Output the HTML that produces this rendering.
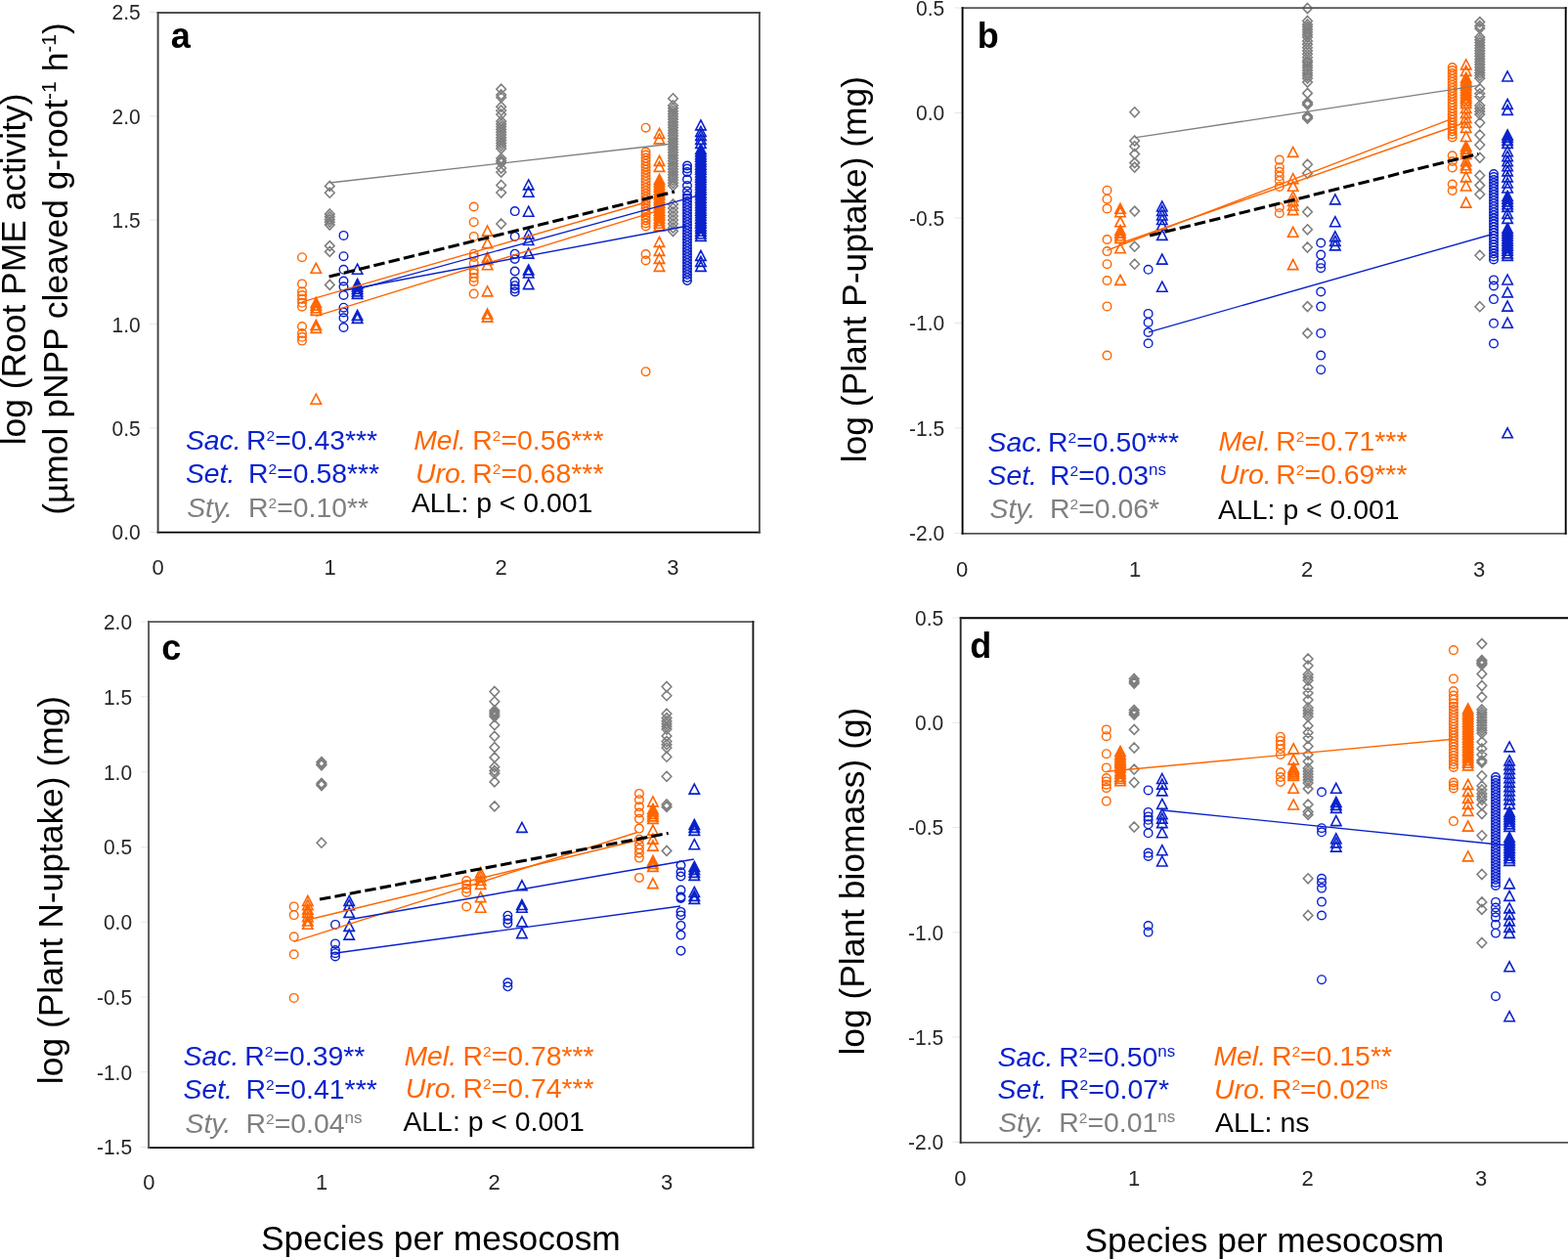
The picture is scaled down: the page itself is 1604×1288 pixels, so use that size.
<!DOCTYPE html><html><head><meta charset="utf-8"><title>Figure</title><style>html,body{margin:0;padding:0;background:#fff;overflow:hidden}svg{display:block}</style></head><body><svg width="1604" height="1288" viewBox="0 0 1604 1288" font-family='"Liberation Sans", Arial, sans-serif'>
<rect width="1604" height="1288" fill="#fff"/>
<line x1="153.2" y1="12.5" x2="161.2" y2="12.5" stroke="#e6e6e6" stroke-width="1"/>
<text x="143.8" y="20.4" font-size="22" text-anchor="end" textLength="29.2" lengthAdjust="spacingAndGlyphs" fill="#262626">2.5</text>
<line x1="153.2" y1="118.9" x2="161.2" y2="118.9" stroke="#e6e6e6" stroke-width="1"/>
<text x="143.8" y="126.8" font-size="22" text-anchor="end" textLength="29.2" lengthAdjust="spacingAndGlyphs" fill="#262626">2.0</text>
<line x1="153.2" y1="225.2" x2="161.2" y2="225.2" stroke="#e6e6e6" stroke-width="1"/>
<text x="143.8" y="233.1" font-size="22" text-anchor="end" textLength="29.2" lengthAdjust="spacingAndGlyphs" fill="#262626">1.5</text>
<line x1="153.2" y1="331.6" x2="161.2" y2="331.6" stroke="#e6e6e6" stroke-width="1"/>
<text x="143.8" y="339.5" font-size="22" text-anchor="end" textLength="29.2" lengthAdjust="spacingAndGlyphs" fill="#262626">1.0</text>
<line x1="153.2" y1="437.9" x2="161.2" y2="437.9" stroke="#e6e6e6" stroke-width="1"/>
<text x="143.8" y="445.8" font-size="22" text-anchor="end" textLength="29.2" lengthAdjust="spacingAndGlyphs" fill="#262626">0.5</text>
<line x1="153.2" y1="544.3" x2="161.2" y2="544.3" stroke="#e6e6e6" stroke-width="1"/>
<text x="143.8" y="552.2" font-size="22" text-anchor="end" textLength="29.2" lengthAdjust="spacingAndGlyphs" fill="#262626">0.0</text>
<text x="161.5" y="588.1" font-size="22" text-anchor="middle" fill="#262626">0</text>
<text x="337.5" y="588.1" font-size="22" text-anchor="middle" fill="#262626">1</text>
<text x="512.5" y="588.1" font-size="22" text-anchor="middle" fill="#262626">2</text>
<text x="688.3" y="588.1" font-size="22" text-anchor="middle" fill="#262626">3</text>
<line x1="976.5" y1="8.0" x2="984.5" y2="8.0" stroke="#e6e6e6" stroke-width="1"/>
<text x="966.3" y="15.9" font-size="22" text-anchor="end" textLength="29.2" lengthAdjust="spacingAndGlyphs" fill="#262626">0.5</text>
<line x1="976.5" y1="115.5" x2="984.5" y2="115.5" stroke="#e6e6e6" stroke-width="1"/>
<text x="966.3" y="123.4" font-size="22" text-anchor="end" textLength="29.2" lengthAdjust="spacingAndGlyphs" fill="#262626">0.0</text>
<line x1="976.5" y1="223.0" x2="984.5" y2="223.0" stroke="#e6e6e6" stroke-width="1"/>
<text x="966.3" y="230.9" font-size="22" text-anchor="end" textLength="36.2" lengthAdjust="spacingAndGlyphs" fill="#262626">-0.5</text>
<line x1="976.5" y1="330.5" x2="984.5" y2="330.5" stroke="#e6e6e6" stroke-width="1"/>
<text x="966.3" y="338.4" font-size="22" text-anchor="end" textLength="36.2" lengthAdjust="spacingAndGlyphs" fill="#262626">-1.0</text>
<line x1="976.5" y1="438.0" x2="984.5" y2="438.0" stroke="#e6e6e6" stroke-width="1"/>
<text x="966.3" y="445.9" font-size="22" text-anchor="end" textLength="36.2" lengthAdjust="spacingAndGlyphs" fill="#262626">-1.5</text>
<line x1="976.5" y1="545.5" x2="984.5" y2="545.5" stroke="#e6e6e6" stroke-width="1"/>
<text x="966.3" y="553.4" font-size="22" text-anchor="end" textLength="36.2" lengthAdjust="spacingAndGlyphs" fill="#262626">-2.0</text>
<text x="984.0" y="589.6" font-size="22" text-anchor="middle" fill="#262626">0</text>
<text x="1161.0" y="589.6" font-size="22" text-anchor="middle" fill="#262626">1</text>
<text x="1337.0" y="589.6" font-size="22" text-anchor="middle" fill="#262626">2</text>
<text x="1513.0" y="589.6" font-size="22" text-anchor="middle" fill="#262626">3</text>
<line x1="144.0" y1="636.0" x2="152.0" y2="636.0" stroke="#e6e6e6" stroke-width="1"/>
<text x="135.1" y="643.9" font-size="22" text-anchor="end" textLength="29.2" lengthAdjust="spacingAndGlyphs" fill="#262626">2.0</text>
<line x1="144.0" y1="712.8" x2="152.0" y2="712.8" stroke="#e6e6e6" stroke-width="1"/>
<text x="135.1" y="720.7" font-size="22" text-anchor="end" textLength="29.2" lengthAdjust="spacingAndGlyphs" fill="#262626">1.5</text>
<line x1="144.0" y1="789.6" x2="152.0" y2="789.6" stroke="#e6e6e6" stroke-width="1"/>
<text x="135.1" y="797.5" font-size="22" text-anchor="end" textLength="29.2" lengthAdjust="spacingAndGlyphs" fill="#262626">1.0</text>
<line x1="144.0" y1="866.4" x2="152.0" y2="866.4" stroke="#e6e6e6" stroke-width="1"/>
<text x="135.1" y="874.3" font-size="22" text-anchor="end" textLength="29.2" lengthAdjust="spacingAndGlyphs" fill="#262626">0.5</text>
<line x1="144.0" y1="943.1" x2="152.0" y2="943.1" stroke="#e6e6e6" stroke-width="1"/>
<text x="135.1" y="951.0" font-size="22" text-anchor="end" textLength="29.2" lengthAdjust="spacingAndGlyphs" fill="#262626">0.0</text>
<line x1="144.0" y1="1019.9" x2="152.0" y2="1019.9" stroke="#e6e6e6" stroke-width="1"/>
<text x="135.1" y="1027.8" font-size="22" text-anchor="end" textLength="36.2" lengthAdjust="spacingAndGlyphs" fill="#262626">-0.5</text>
<line x1="144.0" y1="1096.7" x2="152.0" y2="1096.7" stroke="#e6e6e6" stroke-width="1"/>
<text x="135.1" y="1104.6" font-size="22" text-anchor="end" textLength="36.2" lengthAdjust="spacingAndGlyphs" fill="#262626">-1.0</text>
<line x1="144.0" y1="1173.5" x2="152.0" y2="1173.5" stroke="#e6e6e6" stroke-width="1"/>
<text x="135.1" y="1181.4" font-size="22" text-anchor="end" textLength="36.2" lengthAdjust="spacingAndGlyphs" fill="#262626">-1.5</text>
<text x="152.4" y="1217.4" font-size="22" text-anchor="middle" fill="#262626">0</text>
<text x="329.0" y="1217.4" font-size="22" text-anchor="middle" fill="#262626">1</text>
<text x="505.5" y="1217.4" font-size="22" text-anchor="middle" fill="#262626">2</text>
<text x="682.0" y="1217.4" font-size="22" text-anchor="middle" fill="#262626">3</text>
<line x1="974.4" y1="632.0" x2="982.4" y2="632.0" stroke="#e6e6e6" stroke-width="1"/>
<text x="965.3" y="639.9" font-size="22" text-anchor="end" textLength="29.2" lengthAdjust="spacingAndGlyphs" fill="#262626">0.5</text>
<line x1="974.4" y1="739.3" x2="982.4" y2="739.3" stroke="#e6e6e6" stroke-width="1"/>
<text x="965.3" y="747.2" font-size="22" text-anchor="end" textLength="29.2" lengthAdjust="spacingAndGlyphs" fill="#262626">0.0</text>
<line x1="974.4" y1="846.5" x2="982.4" y2="846.5" stroke="#e6e6e6" stroke-width="1"/>
<text x="965.3" y="854.4" font-size="22" text-anchor="end" textLength="36.2" lengthAdjust="spacingAndGlyphs" fill="#262626">-0.5</text>
<line x1="974.4" y1="953.8" x2="982.4" y2="953.8" stroke="#e6e6e6" stroke-width="1"/>
<text x="965.3" y="961.7" font-size="22" text-anchor="end" textLength="36.2" lengthAdjust="spacingAndGlyphs" fill="#262626">-1.0</text>
<line x1="974.4" y1="1061.0" x2="982.4" y2="1061.0" stroke="#e6e6e6" stroke-width="1"/>
<text x="965.3" y="1068.9" font-size="22" text-anchor="end" textLength="36.2" lengthAdjust="spacingAndGlyphs" fill="#262626">-1.5</text>
<line x1="974.4" y1="1168.3" x2="982.4" y2="1168.3" stroke="#e6e6e6" stroke-width="1"/>
<text x="965.3" y="1176.2" font-size="22" text-anchor="end" textLength="36.2" lengthAdjust="spacingAndGlyphs" fill="#262626">-2.0</text>
<text x="982.4" y="1213.0" font-size="22" text-anchor="middle" fill="#262626">0</text>
<text x="1160.0" y="1213.0" font-size="22" text-anchor="middle" fill="#262626">1</text>
<text x="1337.6" y="1213.0" font-size="22" text-anchor="middle" fill="#262626">2</text>
<text x="1515.0" y="1213.0" font-size="22" text-anchor="middle" fill="#262626">3</text>
<path d="M304.7 263.2a4.3 4.3 0 1 0 8.6 0a4.3 4.3 0 1 0 -8.6 0zM304.7 290.4a4.3 4.3 0 1 0 8.6 0a4.3 4.3 0 1 0 -8.6 0zM304.7 298.2a4.3 4.3 0 1 0 8.6 0a4.3 4.3 0 1 0 -8.6 0zM304.7 302.0a4.3 4.3 0 1 0 8.6 0a4.3 4.3 0 1 0 -8.6 0zM304.7 306.0a4.3 4.3 0 1 0 8.6 0a4.3 4.3 0 1 0 -8.6 0zM304.7 309.8a4.3 4.3 0 1 0 8.6 0a4.3 4.3 0 1 0 -8.6 0zM304.7 313.7a4.3 4.3 0 1 0 8.6 0a4.3 4.3 0 1 0 -8.6 0zM304.7 334.0a4.3 4.3 0 1 0 8.6 0a4.3 4.3 0 1 0 -8.6 0zM304.7 341.0a4.3 4.3 0 1 0 8.6 0a4.3 4.3 0 1 0 -8.6 0zM304.7 344.8a4.3 4.3 0 1 0 8.6 0a4.3 4.3 0 1 0 -8.6 0zM304.7 348.6a4.3 4.3 0 1 0 8.6 0a4.3 4.3 0 1 0 -8.6 0z" fill="none" stroke="#ff6600" stroke-width="1.4"/>
<path d="M323.3 269.3L328.5 279.3L318.1 279.3zM323.3 304.4L328.5 314.4L318.1 314.4zM323.3 307.1L328.5 317.1L318.1 317.1zM323.3 309.7L328.5 319.7L318.1 319.7zM323.3 312.4L328.5 322.4L318.1 322.4zM323.3 327.4L328.5 337.4L318.1 337.4zM323.3 330.4L328.5 340.4L318.1 340.4zM323.3 403.2L328.5 413.2L318.1 413.2z" fill="none" stroke="#ff6600" stroke-width="1.6"/>
<path d="M337.3 185.4L342.1 190.4L337.3 195.4L332.5 190.4zM337.3 192.2L342.1 197.2L337.3 202.2L332.5 197.2zM337.3 214.0L342.1 219.0L337.3 224.0L332.5 219.0zM337.3 216.8L342.1 221.8L337.3 226.8L332.5 221.8zM337.3 219.5L342.1 224.5L337.3 229.5L332.5 224.5zM337.3 222.2L342.1 227.2L337.3 232.2L332.5 227.2zM337.3 225.0L342.1 230.0L337.3 235.0L332.5 230.0zM337.3 246.6L342.1 251.6L337.3 256.6L332.5 251.6zM337.3 252.4L342.1 257.4L337.3 262.4L332.5 257.4zM337.3 286.4L342.1 291.4L337.3 296.4L332.5 291.4z" fill="none" stroke="#7f7f7f" stroke-width="1.6"/>
<path d="M347.2 240.9a4.3 4.3 0 1 0 8.6 0a4.3 4.3 0 1 0 -8.6 0zM347.2 262.2a4.3 4.3 0 1 0 8.6 0a4.3 4.3 0 1 0 -8.6 0zM347.2 275.8a4.3 4.3 0 1 0 8.6 0a4.3 4.3 0 1 0 -8.6 0zM347.2 287.5a4.3 4.3 0 1 0 8.6 0a4.3 4.3 0 1 0 -8.6 0zM347.2 293.3a4.3 4.3 0 1 0 8.6 0a4.3 4.3 0 1 0 -8.6 0zM347.2 302.0a4.3 4.3 0 1 0 8.6 0a4.3 4.3 0 1 0 -8.6 0zM347.2 314.7a4.3 4.3 0 1 0 8.6 0a4.3 4.3 0 1 0 -8.6 0zM347.2 319.5a4.3 4.3 0 1 0 8.6 0a4.3 4.3 0 1 0 -8.6 0zM347.2 325.3a4.3 4.3 0 1 0 8.6 0a4.3 4.3 0 1 0 -8.6 0zM347.2 335.0a4.3 4.3 0 1 0 8.6 0a4.3 4.3 0 1 0 -8.6 0z" fill="none" stroke="#0a22cc" stroke-width="1.4"/>
<path d="M365.6 270.2L370.8 280.2L360.4 280.2zM365.6 285.4L370.8 295.4L360.4 295.4zM365.6 287.9L370.8 297.9L360.4 297.9zM365.6 290.4L370.8 300.4L360.4 300.4zM365.6 292.9L370.8 302.9L360.4 302.9zM365.6 295.4L370.8 305.4L360.4 305.4zM365.6 317.4L370.8 327.4L360.4 327.4zM365.6 320.4L370.8 330.4L360.4 330.4z" fill="none" stroke="#0a22cc" stroke-width="1.6"/>
<path d="M480.4 211.5a4.3 4.3 0 1 0 8.6 0a4.3 4.3 0 1 0 -8.6 0zM480.4 227.2a4.3 4.3 0 1 0 8.6 0a4.3 4.3 0 1 0 -8.6 0zM480.4 241.9a4.3 4.3 0 1 0 8.6 0a4.3 4.3 0 1 0 -8.6 0zM480.4 259.7a4.3 4.3 0 1 0 8.6 0a4.3 4.3 0 1 0 -8.6 0zM480.4 262.9a4.3 4.3 0 1 0 8.6 0a4.3 4.3 0 1 0 -8.6 0zM480.4 269.2a4.3 4.3 0 1 0 8.6 0a4.3 4.3 0 1 0 -8.6 0zM480.4 276.5a4.3 4.3 0 1 0 8.6 0a4.3 4.3 0 1 0 -8.6 0zM480.4 279.6a4.3 4.3 0 1 0 8.6 0a4.3 4.3 0 1 0 -8.6 0zM480.4 284.0a4.3 4.3 0 1 0 8.6 0a4.3 4.3 0 1 0 -8.6 0zM480.4 288.0a4.3 4.3 0 1 0 8.6 0a4.3 4.3 0 1 0 -8.6 0zM480.4 300.6a4.3 4.3 0 1 0 8.6 0a4.3 4.3 0 1 0 -8.6 0z" fill="none" stroke="#ff6600" stroke-width="1.4"/>
<path d="M498.6 231.1L503.8 241.1L493.4 241.1zM498.6 243.6L503.8 253.6L493.4 253.6zM498.6 258.3L503.8 268.3L493.4 268.3zM498.6 260.4L503.8 270.4L493.4 270.4zM498.6 265.7L503.8 275.7L493.4 275.7zM498.6 292.9L503.8 302.9L493.4 302.9zM498.6 316.0L503.8 326.0L493.4 326.0zM498.6 319.1L503.8 329.1L493.4 329.1z" fill="none" stroke="#ff6600" stroke-width="1.6"/>
<path d="M512.7 86.2L517.5 91.2L512.7 96.2L507.9 91.2zM512.7 92.0L517.5 97.0L512.7 102.0L507.9 97.0zM512.7 94.5L517.5 99.5L512.7 104.5L507.9 99.5zM512.7 104.2L517.5 109.2L512.7 114.2L507.9 109.2zM512.7 108.0L517.5 113.0L512.7 118.0L507.9 113.0zM512.7 112.0L517.5 117.0L512.7 122.0L507.9 117.0zM512.7 119.0L517.5 124.0L512.7 129.0L507.9 124.0zM512.7 121.8L517.5 126.8L512.7 131.8L507.9 126.8zM512.7 124.6L517.5 129.6L512.7 134.6L507.9 129.6zM512.7 127.4L517.5 132.4L512.7 137.4L507.9 132.4zM512.7 130.2L517.5 135.2L512.7 140.2L507.9 135.2zM512.7 133.0L517.5 138.0L512.7 143.0L507.9 138.0zM512.7 135.8L517.5 140.8L512.7 145.8L507.9 140.8zM512.7 138.6L517.5 143.6L512.7 148.6L507.9 143.6zM512.7 141.4L517.5 146.4L512.7 151.4L507.9 146.4zM512.7 144.2L517.5 149.2L512.7 154.2L507.9 149.2zM512.7 147.0L517.5 152.0L512.7 157.0L507.9 152.0zM512.7 157.0L517.5 162.0L512.7 167.0L507.9 162.0zM512.7 159.5L517.5 164.5L512.7 169.5L507.9 164.5zM512.7 161.5L517.5 166.5L512.7 171.5L507.9 166.5zM512.7 167.0L517.5 172.0L512.7 177.0L507.9 172.0zM512.7 171.0L517.5 176.0L512.7 181.0L507.9 176.0zM512.7 184.5L517.5 189.5L512.7 194.5L507.9 189.5zM512.7 192.0L517.5 197.0L512.7 202.0L507.9 197.0zM512.7 224.0L517.5 229.0L512.7 234.0L507.9 229.0z" fill="none" stroke="#7f7f7f" stroke-width="1.6"/>
<path d="M522.4 216.1a4.3 4.3 0 1 0 8.6 0a4.3 4.3 0 1 0 -8.6 0zM522.4 241.9a4.3 4.3 0 1 0 8.6 0a4.3 4.3 0 1 0 -8.6 0zM522.4 259.7a4.3 4.3 0 1 0 8.6 0a4.3 4.3 0 1 0 -8.6 0zM522.4 265.0a4.3 4.3 0 1 0 8.6 0a4.3 4.3 0 1 0 -8.6 0zM522.4 277.5a4.3 4.3 0 1 0 8.6 0a4.3 4.3 0 1 0 -8.6 0zM522.4 288.0a4.3 4.3 0 1 0 8.6 0a4.3 4.3 0 1 0 -8.6 0zM522.4 292.2a4.3 4.3 0 1 0 8.6 0a4.3 4.3 0 1 0 -8.6 0zM522.4 295.4a4.3 4.3 0 1 0 8.6 0a4.3 4.3 0 1 0 -8.6 0zM522.4 298.5a4.3 4.3 0 1 0 8.6 0a4.3 4.3 0 1 0 -8.6 0z" fill="none" stroke="#0a22cc" stroke-width="1.4"/>
<path d="M540.7 183.9L545.9 193.9L535.5 193.9zM540.7 191.2L545.9 201.2L535.5 201.2zM540.7 211.2L545.9 221.2L535.5 221.2zM540.7 234.2L545.9 244.2L535.5 244.2zM540.7 240.5L545.9 250.5L535.5 250.5zM540.7 254.1L545.9 264.1L535.5 264.1zM540.7 270.9L545.9 280.9L535.5 280.9zM540.7 274.0L545.9 284.0L535.5 284.0zM540.7 285.6L545.9 295.6L535.5 295.6z" fill="none" stroke="#0a22cc" stroke-width="1.6"/>
<path d="M656.3 130.7a4.3 4.3 0 1 0 8.6 0a4.3 4.3 0 1 0 -8.6 0zM656.3 155.5a4.3 4.3 0 1 0 8.6 0a4.3 4.3 0 1 0 -8.6 0zM656.3 158.5a4.3 4.3 0 1 0 8.6 0a4.3 4.3 0 1 0 -8.6 0zM656.3 161.6a4.3 4.3 0 1 0 8.6 0a4.3 4.3 0 1 0 -8.6 0zM656.3 164.6a4.3 4.3 0 1 0 8.6 0a4.3 4.3 0 1 0 -8.6 0zM656.3 167.7a4.3 4.3 0 1 0 8.6 0a4.3 4.3 0 1 0 -8.6 0zM656.3 170.7a4.3 4.3 0 1 0 8.6 0a4.3 4.3 0 1 0 -8.6 0zM656.3 173.7a4.3 4.3 0 1 0 8.6 0a4.3 4.3 0 1 0 -8.6 0zM656.3 176.8a4.3 4.3 0 1 0 8.6 0a4.3 4.3 0 1 0 -8.6 0zM656.3 179.8a4.3 4.3 0 1 0 8.6 0a4.3 4.3 0 1 0 -8.6 0zM656.3 182.9a4.3 4.3 0 1 0 8.6 0a4.3 4.3 0 1 0 -8.6 0zM656.3 185.9a4.3 4.3 0 1 0 8.6 0a4.3 4.3 0 1 0 -8.6 0zM656.3 188.9a4.3 4.3 0 1 0 8.6 0a4.3 4.3 0 1 0 -8.6 0zM656.3 192.0a4.3 4.3 0 1 0 8.6 0a4.3 4.3 0 1 0 -8.6 0zM656.3 195.0a4.3 4.3 0 1 0 8.6 0a4.3 4.3 0 1 0 -8.6 0zM656.3 198.1a4.3 4.3 0 1 0 8.6 0a4.3 4.3 0 1 0 -8.6 0zM656.3 201.1a4.3 4.3 0 1 0 8.6 0a4.3 4.3 0 1 0 -8.6 0zM656.3 204.1a4.3 4.3 0 1 0 8.6 0a4.3 4.3 0 1 0 -8.6 0zM656.3 207.2a4.3 4.3 0 1 0 8.6 0a4.3 4.3 0 1 0 -8.6 0zM656.3 210.2a4.3 4.3 0 1 0 8.6 0a4.3 4.3 0 1 0 -8.6 0zM656.3 213.3a4.3 4.3 0 1 0 8.6 0a4.3 4.3 0 1 0 -8.6 0zM656.3 216.3a4.3 4.3 0 1 0 8.6 0a4.3 4.3 0 1 0 -8.6 0zM656.3 219.3a4.3 4.3 0 1 0 8.6 0a4.3 4.3 0 1 0 -8.6 0zM656.3 222.4a4.3 4.3 0 1 0 8.6 0a4.3 4.3 0 1 0 -8.6 0zM656.3 225.4a4.3 4.3 0 1 0 8.6 0a4.3 4.3 0 1 0 -8.6 0zM656.3 228.5a4.3 4.3 0 1 0 8.6 0a4.3 4.3 0 1 0 -8.6 0zM656.3 231.5a4.3 4.3 0 1 0 8.6 0a4.3 4.3 0 1 0 -8.6 0zM656.3 260.0a4.3 4.3 0 1 0 8.6 0a4.3 4.3 0 1 0 -8.6 0zM656.3 266.5a4.3 4.3 0 1 0 8.6 0a4.3 4.3 0 1 0 -8.6 0zM656.3 380.2a4.3 4.3 0 1 0 8.6 0a4.3 4.3 0 1 0 -8.6 0z" fill="none" stroke="#ff6600" stroke-width="1.4"/>
<path d="M674.5 131.4L679.7 141.4L669.3 141.4zM674.5 136.9L679.7 146.9L669.3 146.9zM674.5 159.4L679.7 169.4L669.3 169.4zM674.5 165.4L679.7 175.4L669.3 175.4zM674.5 178.4L679.7 188.4L669.3 188.4zM674.5 181.0L679.7 191.0L669.3 191.0zM674.5 183.7L679.7 193.7L669.3 193.7zM674.5 186.3L679.7 196.3L669.3 196.3zM674.5 189.0L679.7 199.0L669.3 199.0zM674.5 191.6L679.7 201.6L669.3 201.6zM674.5 194.2L679.7 204.2L669.3 204.2zM674.5 196.9L679.7 206.9L669.3 206.9zM674.5 199.5L679.7 209.5L669.3 209.5zM674.5 202.2L679.7 212.2L669.3 212.2zM674.5 204.8L679.7 214.8L669.3 214.8zM674.5 207.4L679.7 217.4L669.3 217.4zM674.5 210.1L679.7 220.1L669.3 220.1zM674.5 212.7L679.7 222.7L669.3 222.7zM674.5 215.3L679.7 225.3L669.3 225.3zM674.5 218.0L679.7 228.0L669.3 228.0zM674.5 220.6L679.7 230.6L669.3 230.6zM674.5 223.3L679.7 233.3L669.3 233.3zM674.5 225.9L679.7 235.9L669.3 235.9zM674.5 242.4L679.7 252.4L669.3 252.4zM674.5 251.4L679.7 261.4L669.3 261.4zM674.5 259.4L679.7 269.4L669.3 269.4zM674.5 267.4L679.7 277.4L669.3 277.4z" fill="none" stroke="#ff6600" stroke-width="1.6"/>
<path d="M688.5 95.8L693.3 100.8L688.5 105.8L683.7 100.8zM688.5 103.0L693.3 108.0L688.5 113.0L683.7 108.0zM688.5 105.8L693.3 110.8L688.5 115.8L683.7 110.8zM688.5 108.7L693.3 113.7L688.5 118.7L683.7 113.7zM688.5 111.5L693.3 116.5L688.5 121.5L683.7 116.5zM688.5 114.3L693.3 119.3L688.5 124.3L683.7 119.3zM688.5 117.1L693.3 122.1L688.5 127.1L683.7 122.1zM688.5 120.0L693.3 125.0L688.5 130.0L683.7 125.0zM688.5 122.8L693.3 127.8L688.5 132.8L683.7 127.8zM688.5 125.6L693.3 130.6L688.5 135.6L683.7 130.6zM688.5 128.4L693.3 133.4L688.5 138.4L683.7 133.4zM688.5 131.3L693.3 136.3L688.5 141.3L683.7 136.3zM688.5 134.1L693.3 139.1L688.5 144.1L683.7 139.1zM688.5 136.9L693.3 141.9L688.5 146.9L683.7 141.9zM688.5 139.8L693.3 144.8L688.5 149.8L683.7 144.8zM688.5 142.6L693.3 147.6L688.5 152.6L683.7 147.6zM688.5 145.4L693.3 150.4L688.5 155.4L683.7 150.4zM688.5 148.2L693.3 153.2L688.5 158.2L683.7 153.2zM688.5 151.1L693.3 156.1L688.5 161.1L683.7 156.1zM688.5 153.9L693.3 158.9L688.5 163.9L683.7 158.9zM688.5 156.7L693.3 161.7L688.5 166.7L683.7 161.7zM688.5 159.6L693.3 164.6L688.5 169.6L683.7 164.6zM688.5 162.4L693.3 167.4L688.5 172.4L683.7 167.4zM688.5 165.2L693.3 170.2L688.5 175.2L683.7 170.2zM688.5 168.0L693.3 173.0L688.5 178.0L683.7 173.0zM688.5 170.9L693.3 175.9L688.5 180.9L683.7 175.9zM688.5 173.7L693.3 178.7L688.5 183.7L683.7 178.7zM688.5 176.5L693.3 181.5L688.5 186.5L683.7 181.5zM688.5 179.3L693.3 184.3L688.5 189.3L683.7 184.3zM688.5 182.2L693.3 187.2L688.5 192.2L683.7 187.2zM688.5 185.0L693.3 190.0L688.5 195.0L683.7 190.0zM688.5 204.0L693.3 209.0L688.5 214.0L683.7 209.0zM688.5 208.0L693.3 213.0L688.5 218.0L683.7 213.0zM688.5 212.0L693.3 217.0L688.5 222.0L683.7 217.0zM688.5 216.0L693.3 221.0L688.5 226.0L683.7 221.0zM688.5 220.0L693.3 225.0L688.5 230.0L683.7 225.0zM688.5 224.0L693.3 229.0L688.5 234.0L683.7 229.0zM688.5 228.0L693.3 233.0L688.5 238.0L683.7 233.0zM688.5 231.5L693.3 236.5L688.5 241.5L683.7 236.5z" fill="none" stroke="#7f7f7f" stroke-width="1.6"/>
<path d="M698.7 169.5a4.3 4.3 0 1 0 8.6 0a4.3 4.3 0 1 0 -8.6 0zM698.7 172.5a4.3 4.3 0 1 0 8.6 0a4.3 4.3 0 1 0 -8.6 0zM698.7 176.0a4.3 4.3 0 1 0 8.6 0a4.3 4.3 0 1 0 -8.6 0zM698.7 183.5a4.3 4.3 0 1 0 8.6 0a4.3 4.3 0 1 0 -8.6 0zM698.7 190.0a4.3 4.3 0 1 0 8.6 0a4.3 4.3 0 1 0 -8.6 0zM698.7 195.5a4.3 4.3 0 1 0 8.6 0a4.3 4.3 0 1 0 -8.6 0zM698.7 200.0a4.3 4.3 0 1 0 8.6 0a4.3 4.3 0 1 0 -8.6 0zM698.7 203.0a4.3 4.3 0 1 0 8.6 0a4.3 4.3 0 1 0 -8.6 0zM698.7 206.0a4.3 4.3 0 1 0 8.6 0a4.3 4.3 0 1 0 -8.6 0zM698.7 209.0a4.3 4.3 0 1 0 8.6 0a4.3 4.3 0 1 0 -8.6 0zM698.7 212.0a4.3 4.3 0 1 0 8.6 0a4.3 4.3 0 1 0 -8.6 0zM698.7 215.0a4.3 4.3 0 1 0 8.6 0a4.3 4.3 0 1 0 -8.6 0zM698.7 218.0a4.3 4.3 0 1 0 8.6 0a4.3 4.3 0 1 0 -8.6 0zM698.7 221.0a4.3 4.3 0 1 0 8.6 0a4.3 4.3 0 1 0 -8.6 0zM698.7 224.0a4.3 4.3 0 1 0 8.6 0a4.3 4.3 0 1 0 -8.6 0zM698.7 227.0a4.3 4.3 0 1 0 8.6 0a4.3 4.3 0 1 0 -8.6 0zM698.7 230.0a4.3 4.3 0 1 0 8.6 0a4.3 4.3 0 1 0 -8.6 0zM698.7 233.0a4.3 4.3 0 1 0 8.6 0a4.3 4.3 0 1 0 -8.6 0zM698.7 236.0a4.3 4.3 0 1 0 8.6 0a4.3 4.3 0 1 0 -8.6 0zM698.7 239.0a4.3 4.3 0 1 0 8.6 0a4.3 4.3 0 1 0 -8.6 0zM698.7 242.0a4.3 4.3 0 1 0 8.6 0a4.3 4.3 0 1 0 -8.6 0zM698.7 245.0a4.3 4.3 0 1 0 8.6 0a4.3 4.3 0 1 0 -8.6 0zM698.7 248.0a4.3 4.3 0 1 0 8.6 0a4.3 4.3 0 1 0 -8.6 0zM698.7 251.0a4.3 4.3 0 1 0 8.6 0a4.3 4.3 0 1 0 -8.6 0zM698.7 254.0a4.3 4.3 0 1 0 8.6 0a4.3 4.3 0 1 0 -8.6 0zM698.7 257.0a4.3 4.3 0 1 0 8.6 0a4.3 4.3 0 1 0 -8.6 0zM698.7 260.0a4.3 4.3 0 1 0 8.6 0a4.3 4.3 0 1 0 -8.6 0zM698.7 263.0a4.3 4.3 0 1 0 8.6 0a4.3 4.3 0 1 0 -8.6 0zM698.7 266.0a4.3 4.3 0 1 0 8.6 0a4.3 4.3 0 1 0 -8.6 0zM698.7 269.0a4.3 4.3 0 1 0 8.6 0a4.3 4.3 0 1 0 -8.6 0zM698.7 272.0a4.3 4.3 0 1 0 8.6 0a4.3 4.3 0 1 0 -8.6 0zM698.7 275.0a4.3 4.3 0 1 0 8.6 0a4.3 4.3 0 1 0 -8.6 0zM698.7 278.0a4.3 4.3 0 1 0 8.6 0a4.3 4.3 0 1 0 -8.6 0zM698.7 281.0a4.3 4.3 0 1 0 8.6 0a4.3 4.3 0 1 0 -8.6 0zM698.7 284.0a4.3 4.3 0 1 0 8.6 0a4.3 4.3 0 1 0 -8.6 0zM698.7 287.0a4.3 4.3 0 1 0 8.6 0a4.3 4.3 0 1 0 -8.6 0z" fill="none" stroke="#0a22cc" stroke-width="1.4"/>
<path d="M716.9 122.9L722.1 132.9L711.7 132.9zM716.9 129.4L722.1 139.4L711.7 139.4zM716.9 133.4L722.1 143.4L711.7 143.4zM716.9 137.4L722.1 147.4L711.7 147.4zM716.9 141.4L722.1 151.4L711.7 151.4zM716.9 147.4L722.1 157.4L711.7 157.4zM716.9 150.0L722.1 160.0L711.7 160.0zM716.9 152.6L722.1 162.6L711.7 162.6zM716.9 155.3L722.1 165.3L711.7 165.3zM716.9 157.9L722.1 167.9L711.7 167.9zM716.9 160.5L722.1 170.5L711.7 170.5zM716.9 163.1L722.1 173.1L711.7 173.1zM716.9 165.7L722.1 175.7L711.7 175.7zM716.9 168.3L722.1 178.3L711.7 178.3zM716.9 171.0L722.1 181.0L711.7 181.0zM716.9 173.6L722.1 183.6L711.7 183.6zM716.9 176.2L722.1 186.2L711.7 186.2zM716.9 178.8L722.1 188.8L711.7 188.8zM716.9 181.4L722.1 191.4L711.7 191.4zM716.9 184.0L722.1 194.0L711.7 194.0zM716.9 186.7L722.1 196.7L711.7 196.7zM716.9 189.3L722.1 199.3L711.7 199.3zM716.9 191.9L722.1 201.9L711.7 201.9zM716.9 194.5L722.1 204.5L711.7 204.5zM716.9 197.1L722.1 207.1L711.7 207.1zM716.9 199.8L722.1 209.8L711.7 209.8zM716.9 202.4L722.1 212.4L711.7 212.4zM716.9 205.0L722.1 215.0L711.7 215.0zM716.9 207.6L722.1 217.6L711.7 217.6zM716.9 210.2L722.1 220.2L711.7 220.2zM716.9 212.8L722.1 222.8L711.7 222.8zM716.9 215.5L722.1 225.5L711.7 225.5zM716.9 218.1L722.1 228.1L711.7 228.1zM716.9 220.7L722.1 230.7L711.7 230.7zM716.9 223.3L722.1 233.3L711.7 233.3zM716.9 225.9L722.1 235.9L711.7 235.9zM716.9 228.5L722.1 238.5L711.7 238.5zM716.9 231.2L722.1 241.2L711.7 241.2zM716.9 233.8L722.1 243.8L711.7 243.8zM716.9 236.4L722.1 246.4L711.7 246.4zM716.9 256.4L722.1 266.4L711.7 266.4zM716.9 262.4L722.1 272.4L711.7 272.4zM716.9 267.4L722.1 277.4L711.7 277.4z" fill="none" stroke="#0a22cc" stroke-width="1.6"/>
<line x1="337.3" y1="187" x2="688.3" y2="147" stroke="#7f7f7f" stroke-width="1.3"/>
<line x1="309" y1="308.9" x2="660.5" y2="207.0" stroke="#ff6600" stroke-width="1.4"/>
<line x1="323.3" y1="323.3" x2="674.5" y2="215.1" stroke="#ff6600" stroke-width="1.4"/>
<line x1="365.6" y1="295.9" x2="716.5" y2="199.3" stroke="#0a22cc" stroke-width="1.4"/>
<line x1="351.5" y1="297.3" x2="702.5" y2="231.2" stroke="#0a22cc" stroke-width="1.4"/>
<line x1="336.6" y1="283" x2="690" y2="196.2" stroke="#000" stroke-width="3.1" stroke-dasharray="11.5 4.2"/>
<path d="M1128.2 194.7a4.3 4.3 0 1 0 8.6 0a4.3 4.3 0 1 0 -8.6 0zM1128.2 203.7a4.3 4.3 0 1 0 8.6 0a4.3 4.3 0 1 0 -8.6 0zM1128.2 213.4a4.3 4.3 0 1 0 8.6 0a4.3 4.3 0 1 0 -8.6 0zM1128.2 245.0a4.3 4.3 0 1 0 8.6 0a4.3 4.3 0 1 0 -8.6 0zM1128.2 257.1a4.3 4.3 0 1 0 8.6 0a4.3 4.3 0 1 0 -8.6 0zM1128.2 270.2a4.3 4.3 0 1 0 8.6 0a4.3 4.3 0 1 0 -8.6 0zM1128.2 287.0a4.3 4.3 0 1 0 8.6 0a4.3 4.3 0 1 0 -8.6 0zM1128.2 313.4a4.3 4.3 0 1 0 8.6 0a4.3 4.3 0 1 0 -8.6 0zM1128.2 363.6a4.3 4.3 0 1 0 8.6 0a4.3 4.3 0 1 0 -8.6 0z" fill="none" stroke="#ff6600" stroke-width="1.4"/>
<path d="M1146.0 208.3L1151.2 218.3L1140.8 218.3zM1146.0 211.7L1151.2 221.7L1140.8 221.7zM1146.0 221.8L1151.2 231.8L1140.8 231.8zM1146.0 230.4L1151.2 240.4L1140.8 240.4zM1146.0 233.1L1151.2 243.1L1140.8 243.1zM1146.0 235.7L1151.2 245.7L1140.8 245.7zM1146.0 238.4L1151.2 248.4L1140.8 248.4zM1146.0 248.8L1151.2 258.8L1140.8 258.8zM1146.0 281.4L1151.2 291.4L1140.8 291.4z" fill="none" stroke="#ff6600" stroke-width="1.6"/>
<path d="M1160.7 109.8L1165.5 114.8L1160.7 119.8L1155.9 114.8zM1160.7 139.0L1165.5 144.0L1160.7 149.0L1155.9 144.0zM1160.7 144.7L1165.5 149.7L1160.7 154.7L1155.9 149.7zM1160.7 152.6L1165.5 157.6L1160.7 162.6L1155.9 157.6zM1160.7 161.6L1165.5 166.6L1160.7 171.6L1155.9 166.6zM1160.7 166.1L1165.5 171.1L1160.7 176.1L1155.9 171.1zM1160.7 211.1L1165.5 216.1L1160.7 221.1L1155.9 216.1zM1160.7 247.2L1165.5 252.2L1160.7 257.2L1155.9 252.2zM1160.7 265.2L1165.5 270.2L1160.7 275.2L1155.9 270.2z" fill="none" stroke="#7f7f7f" stroke-width="1.6"/>
<path d="M1170.3 275.8a4.3 4.3 0 1 0 8.6 0a4.3 4.3 0 1 0 -8.6 0zM1170.3 320.9a4.3 4.3 0 1 0 8.6 0a4.3 4.3 0 1 0 -8.6 0zM1170.3 329.9a4.3 4.3 0 1 0 8.6 0a4.3 4.3 0 1 0 -8.6 0zM1170.3 340.0a4.3 4.3 0 1 0 8.6 0a4.3 4.3 0 1 0 -8.6 0zM1170.3 351.3a4.3 4.3 0 1 0 8.6 0a4.3 4.3 0 1 0 -8.6 0z" fill="none" stroke="#0a22cc" stroke-width="1.4"/>
<path d="M1188.8 206.0L1194.0 216.0L1183.6 216.0zM1188.8 210.5L1194.0 220.5L1183.6 220.5zM1188.8 215.0L1194.0 225.0L1183.6 225.0zM1188.8 219.5L1194.0 229.5L1183.6 229.5zM1188.8 225.2L1194.0 235.2L1183.6 235.2zM1188.8 235.4L1194.0 245.4L1183.6 245.4zM1188.8 260.1L1194.0 270.1L1183.6 270.1zM1188.8 288.2L1194.0 298.2L1183.6 298.2z" fill="none" stroke="#0a22cc" stroke-width="1.6"/>
<path d="M1304.5 163.6a4.3 4.3 0 1 0 8.6 0a4.3 4.3 0 1 0 -8.6 0zM1304.5 171.2a4.3 4.3 0 1 0 8.6 0a4.3 4.3 0 1 0 -8.6 0zM1304.5 175.8a4.3 4.3 0 1 0 8.6 0a4.3 4.3 0 1 0 -8.6 0zM1304.5 180.3a4.3 4.3 0 1 0 8.6 0a4.3 4.3 0 1 0 -8.6 0zM1304.5 184.8a4.3 4.3 0 1 0 8.6 0a4.3 4.3 0 1 0 -8.6 0zM1304.5 190.9a4.3 4.3 0 1 0 8.6 0a4.3 4.3 0 1 0 -8.6 0zM1304.5 212.1a4.3 4.3 0 1 0 8.6 0a4.3 4.3 0 1 0 -8.6 0zM1304.5 218.2a4.3 4.3 0 1 0 8.6 0a4.3 4.3 0 1 0 -8.6 0z" fill="none" stroke="#ff6600" stroke-width="1.4"/>
<path d="M1322.7 150.4L1327.9 160.4L1317.5 160.4zM1322.7 177.7L1327.9 187.7L1317.5 187.7zM1322.7 185.3L1327.9 195.3L1317.5 195.3zM1322.7 195.9L1327.9 205.9L1317.5 205.9zM1322.7 200.4L1327.9 210.4L1317.5 210.4zM1322.7 205.0L1327.9 215.0L1317.5 215.0zM1322.7 209.6L1327.9 219.6L1317.5 219.6zM1322.7 232.3L1327.9 242.3L1317.5 242.3zM1322.7 265.6L1327.9 275.6L1317.5 275.6z" fill="none" stroke="#ff6600" stroke-width="1.6"/>
<path d="M1337.5 3.5L1342.3 8.5L1337.5 13.5L1332.7 8.5zM1337.5 16.5L1342.3 21.5L1337.5 26.5L1332.7 21.5zM1337.5 20.0L1342.3 25.0L1337.5 30.0L1332.7 25.0zM1337.5 22.6L1342.3 27.6L1337.5 32.6L1332.7 27.6zM1337.5 25.2L1342.3 30.2L1337.5 35.2L1332.7 30.2zM1337.5 27.8L1342.3 32.8L1337.5 37.8L1332.7 32.8zM1337.5 30.4L1342.3 35.4L1337.5 40.4L1332.7 35.4zM1337.5 33.0L1342.3 38.0L1337.5 43.0L1332.7 38.0zM1337.5 37.0L1342.3 42.0L1337.5 47.0L1332.7 42.0zM1337.5 40.3L1342.3 45.3L1337.5 50.3L1332.7 45.3zM1337.5 43.7L1342.3 48.7L1337.5 53.7L1332.7 48.7zM1337.5 47.0L1342.3 52.0L1337.5 57.0L1332.7 52.0zM1337.5 50.3L1342.3 55.3L1337.5 60.3L1332.7 55.3zM1337.5 53.7L1342.3 58.7L1337.5 63.7L1332.7 58.7zM1337.5 57.0L1342.3 62.0L1337.5 67.0L1332.7 62.0zM1337.5 59.0L1342.3 64.0L1337.5 69.0L1332.7 64.0zM1337.5 61.7L1342.3 66.7L1337.5 71.7L1332.7 66.7zM1337.5 64.3L1342.3 69.3L1337.5 74.3L1332.7 69.3zM1337.5 67.0L1342.3 72.0L1337.5 77.0L1332.7 72.0zM1337.5 69.7L1342.3 74.7L1337.5 79.7L1332.7 74.7zM1337.5 72.3L1342.3 77.3L1337.5 82.3L1332.7 77.3zM1337.5 75.0L1342.3 80.0L1337.5 85.0L1332.7 80.0zM1337.5 79.0L1342.3 84.0L1337.5 89.0L1332.7 84.0zM1337.5 90.4L1342.3 95.4L1337.5 100.4L1332.7 95.4zM1337.5 99.8L1342.3 104.8L1337.5 109.8L1332.7 104.8zM1337.5 101.0L1342.3 106.0L1337.5 111.0L1332.7 106.0zM1337.5 102.2L1342.3 107.2L1337.5 112.2L1332.7 107.2zM1337.5 113.8L1342.3 118.8L1337.5 123.8L1332.7 118.8zM1337.5 115.0L1342.3 120.0L1337.5 125.0L1332.7 120.0zM1337.5 116.2L1342.3 121.2L1337.5 126.2L1332.7 121.2zM1337.5 163.2L1342.3 168.2L1337.5 173.2L1332.7 168.2zM1337.5 172.3L1342.3 177.3L1337.5 182.3L1332.7 177.3zM1337.5 211.7L1342.3 216.7L1337.5 221.7L1332.7 216.7zM1337.5 229.8L1342.3 234.8L1337.5 239.8L1332.7 234.8zM1337.5 248.0L1342.3 253.0L1337.5 258.0L1332.7 253.0zM1337.5 308.6L1342.3 313.6L1337.5 318.6L1332.7 313.6zM1337.5 335.9L1342.3 340.9L1337.5 345.9L1332.7 340.9z" fill="none" stroke="#7f7f7f" stroke-width="1.6"/>
<path d="M1346.9 248.5a4.3 4.3 0 1 0 8.6 0a4.3 4.3 0 1 0 -8.6 0zM1346.9 260.6a4.3 4.3 0 1 0 8.6 0a4.3 4.3 0 1 0 -8.6 0zM1346.9 269.7a4.3 4.3 0 1 0 8.6 0a4.3 4.3 0 1 0 -8.6 0zM1346.9 274.2a4.3 4.3 0 1 0 8.6 0a4.3 4.3 0 1 0 -8.6 0zM1346.9 298.5a4.3 4.3 0 1 0 8.6 0a4.3 4.3 0 1 0 -8.6 0zM1346.9 313.6a4.3 4.3 0 1 0 8.6 0a4.3 4.3 0 1 0 -8.6 0zM1346.9 340.9a4.3 4.3 0 1 0 8.6 0a4.3 4.3 0 1 0 -8.6 0zM1346.9 363.6a4.3 4.3 0 1 0 8.6 0a4.3 4.3 0 1 0 -8.6 0zM1346.9 378.2a4.3 4.3 0 1 0 8.6 0a4.3 4.3 0 1 0 -8.6 0z" fill="none" stroke="#0a22cc" stroke-width="1.4"/>
<path d="M1365.8 198.9L1371.0 208.9L1360.6 208.9zM1365.8 221.7L1371.0 231.7L1360.6 231.7zM1365.8 236.8L1371.0 246.8L1360.6 246.8zM1365.8 241.4L1371.0 251.4L1360.6 251.4zM1365.8 245.9L1371.0 255.9L1360.6 255.9z" fill="none" stroke="#0a22cc" stroke-width="1.6"/>
<path d="M1481.4 69.0a4.3 4.3 0 1 0 8.6 0a4.3 4.3 0 1 0 -8.6 0zM1481.4 72.0a4.3 4.3 0 1 0 8.6 0a4.3 4.3 0 1 0 -8.6 0zM1481.4 75.0a4.3 4.3 0 1 0 8.6 0a4.3 4.3 0 1 0 -8.6 0zM1481.4 77.9a4.3 4.3 0 1 0 8.6 0a4.3 4.3 0 1 0 -8.6 0zM1481.4 80.9a4.3 4.3 0 1 0 8.6 0a4.3 4.3 0 1 0 -8.6 0zM1481.4 83.9a4.3 4.3 0 1 0 8.6 0a4.3 4.3 0 1 0 -8.6 0zM1481.4 86.9a4.3 4.3 0 1 0 8.6 0a4.3 4.3 0 1 0 -8.6 0zM1481.4 89.9a4.3 4.3 0 1 0 8.6 0a4.3 4.3 0 1 0 -8.6 0zM1481.4 92.8a4.3 4.3 0 1 0 8.6 0a4.3 4.3 0 1 0 -8.6 0zM1481.4 95.8a4.3 4.3 0 1 0 8.6 0a4.3 4.3 0 1 0 -8.6 0zM1481.4 98.8a4.3 4.3 0 1 0 8.6 0a4.3 4.3 0 1 0 -8.6 0zM1481.4 101.8a4.3 4.3 0 1 0 8.6 0a4.3 4.3 0 1 0 -8.6 0zM1481.4 104.8a4.3 4.3 0 1 0 8.6 0a4.3 4.3 0 1 0 -8.6 0zM1481.4 107.7a4.3 4.3 0 1 0 8.6 0a4.3 4.3 0 1 0 -8.6 0zM1481.4 110.7a4.3 4.3 0 1 0 8.6 0a4.3 4.3 0 1 0 -8.6 0zM1481.4 113.7a4.3 4.3 0 1 0 8.6 0a4.3 4.3 0 1 0 -8.6 0zM1481.4 116.7a4.3 4.3 0 1 0 8.6 0a4.3 4.3 0 1 0 -8.6 0zM1481.4 119.6a4.3 4.3 0 1 0 8.6 0a4.3 4.3 0 1 0 -8.6 0zM1481.4 122.6a4.3 4.3 0 1 0 8.6 0a4.3 4.3 0 1 0 -8.6 0zM1481.4 125.6a4.3 4.3 0 1 0 8.6 0a4.3 4.3 0 1 0 -8.6 0zM1481.4 128.6a4.3 4.3 0 1 0 8.6 0a4.3 4.3 0 1 0 -8.6 0zM1481.4 131.6a4.3 4.3 0 1 0 8.6 0a4.3 4.3 0 1 0 -8.6 0zM1481.4 134.5a4.3 4.3 0 1 0 8.6 0a4.3 4.3 0 1 0 -8.6 0zM1481.4 137.5a4.3 4.3 0 1 0 8.6 0a4.3 4.3 0 1 0 -8.6 0zM1481.4 140.5a4.3 4.3 0 1 0 8.6 0a4.3 4.3 0 1 0 -8.6 0zM1481.4 159.3a4.3 4.3 0 1 0 8.6 0a4.3 4.3 0 1 0 -8.6 0zM1481.4 165.0a4.3 4.3 0 1 0 8.6 0a4.3 4.3 0 1 0 -8.6 0zM1481.4 171.4a4.3 4.3 0 1 0 8.6 0a4.3 4.3 0 1 0 -8.6 0zM1481.4 188.5a4.3 4.3 0 1 0 8.6 0a4.3 4.3 0 1 0 -8.6 0zM1481.4 195.0a4.3 4.3 0 1 0 8.6 0a4.3 4.3 0 1 0 -8.6 0z" fill="none" stroke="#ff6600" stroke-width="1.4"/>
<path d="M1499.7 60.9L1504.9 70.9L1494.5 70.9zM1499.7 67.4L1504.9 77.4L1494.5 77.4zM1499.7 74.4L1504.9 84.4L1494.5 84.4zM1499.7 77.0L1504.9 87.0L1494.5 87.0zM1499.7 79.6L1504.9 89.6L1494.5 89.6zM1499.7 82.2L1504.9 92.2L1494.5 92.2zM1499.7 84.8L1504.9 94.8L1494.5 94.8zM1499.7 87.4L1504.9 97.4L1494.5 97.4zM1499.7 90.0L1504.9 100.0L1494.5 100.0zM1499.7 92.6L1504.9 102.6L1494.5 102.6zM1499.7 95.2L1504.9 105.2L1494.5 105.2zM1499.7 97.8L1504.9 107.8L1494.5 107.8zM1499.7 100.4L1504.9 110.4L1494.5 110.4zM1499.7 105.4L1504.9 115.4L1494.5 115.4zM1499.7 110.4L1504.9 120.4L1494.5 120.4zM1499.7 115.4L1504.9 125.4L1494.5 125.4zM1499.7 120.4L1504.9 130.4L1494.5 130.4zM1499.7 125.4L1504.9 135.4L1494.5 135.4zM1499.7 134.5L1504.9 144.5L1494.5 144.5zM1499.7 144.4L1504.9 154.4L1494.5 154.4zM1499.7 147.1L1504.9 157.1L1494.5 157.1zM1499.7 149.7L1504.9 159.7L1494.5 159.7zM1499.7 152.4L1504.9 162.4L1494.5 162.4zM1499.7 159.8L1504.9 169.8L1494.5 169.8zM1499.7 163.8L1504.9 173.8L1494.5 173.8zM1499.7 166.8L1504.9 176.8L1494.5 176.8zM1499.7 175.9L1504.9 185.9L1494.5 185.9zM1499.7 185.0L1504.9 195.0L1494.5 195.0zM1499.7 202.1L1504.9 212.1L1494.5 212.1z" fill="none" stroke="#ff6600" stroke-width="1.6"/>
<path d="M1513.8 17.6L1518.6 22.6L1513.8 27.6L1509.0 22.6zM1513.8 21.5L1518.6 26.5L1513.8 31.5L1509.0 26.5zM1513.8 24.0L1518.6 29.0L1513.8 34.0L1509.0 29.0zM1513.8 33.0L1518.6 38.0L1513.8 43.0L1509.0 38.0zM1513.8 35.8L1518.6 40.8L1513.8 45.8L1509.0 40.8zM1513.8 38.6L1518.6 43.6L1513.8 48.6L1509.0 43.6zM1513.8 41.4L1518.6 46.4L1513.8 51.4L1509.0 46.4zM1513.8 44.2L1518.6 49.2L1513.8 54.2L1509.0 49.2zM1513.8 47.0L1518.6 52.0L1513.8 57.0L1509.0 52.0zM1513.8 49.8L1518.6 54.8L1513.8 59.8L1509.0 54.8zM1513.8 52.6L1518.6 57.6L1513.8 62.6L1509.0 57.6zM1513.8 55.4L1518.6 60.4L1513.8 65.4L1509.0 60.4zM1513.8 58.2L1518.6 63.2L1513.8 68.2L1509.0 63.2zM1513.8 61.0L1518.6 66.0L1513.8 71.0L1509.0 66.0zM1513.8 63.8L1518.6 68.8L1513.8 73.8L1509.0 68.8zM1513.8 66.6L1518.6 71.6L1513.8 76.6L1509.0 71.6zM1513.8 69.4L1518.6 74.4L1513.8 79.4L1509.0 74.4zM1513.8 72.2L1518.6 77.2L1513.8 82.2L1509.0 77.2zM1513.8 75.0L1518.6 80.0L1513.8 85.0L1509.0 80.0zM1513.8 85.7L1518.6 90.7L1513.8 95.7L1509.0 90.7zM1513.8 90.8L1518.6 95.8L1513.8 100.8L1509.0 95.8zM1513.8 93.8L1518.6 98.8L1513.8 103.8L1509.0 98.8zM1513.8 103.0L1518.6 108.0L1513.8 113.0L1509.0 108.0zM1513.8 106.0L1518.6 111.0L1513.8 116.0L1509.0 111.0zM1513.8 109.0L1518.6 114.0L1513.8 119.0L1509.0 114.0zM1513.8 112.0L1518.6 117.0L1513.8 122.0L1509.0 117.0zM1513.8 120.5L1518.6 125.5L1513.8 130.5L1509.0 125.5zM1513.8 133.0L1518.6 138.0L1513.8 143.0L1509.0 138.0zM1513.8 143.2L1518.6 148.2L1513.8 153.2L1509.0 148.2zM1513.8 156.3L1518.6 161.3L1513.8 166.3L1509.0 161.3zM1513.8 174.5L1518.6 179.5L1513.8 184.5L1509.0 179.5zM1513.8 184.6L1518.6 189.6L1513.8 194.6L1509.0 189.6zM1513.8 193.7L1518.6 198.7L1513.8 203.7L1509.0 198.7zM1513.8 256.2L1518.6 261.2L1513.8 266.2L1509.0 261.2zM1513.8 308.7L1518.6 313.7L1513.8 318.7L1509.0 313.7z" fill="none" stroke="#7f7f7f" stroke-width="1.6"/>
<path d="M1523.7 178.0a4.3 4.3 0 1 0 8.6 0a4.3 4.3 0 1 0 -8.6 0zM1523.7 181.0a4.3 4.3 0 1 0 8.6 0a4.3 4.3 0 1 0 -8.6 0zM1523.7 184.0a4.3 4.3 0 1 0 8.6 0a4.3 4.3 0 1 0 -8.6 0zM1523.7 187.1a4.3 4.3 0 1 0 8.6 0a4.3 4.3 0 1 0 -8.6 0zM1523.7 190.1a4.3 4.3 0 1 0 8.6 0a4.3 4.3 0 1 0 -8.6 0zM1523.7 193.1a4.3 4.3 0 1 0 8.6 0a4.3 4.3 0 1 0 -8.6 0zM1523.7 196.1a4.3 4.3 0 1 0 8.6 0a4.3 4.3 0 1 0 -8.6 0zM1523.7 199.1a4.3 4.3 0 1 0 8.6 0a4.3 4.3 0 1 0 -8.6 0zM1523.7 202.1a4.3 4.3 0 1 0 8.6 0a4.3 4.3 0 1 0 -8.6 0zM1523.7 205.2a4.3 4.3 0 1 0 8.6 0a4.3 4.3 0 1 0 -8.6 0zM1523.7 208.2a4.3 4.3 0 1 0 8.6 0a4.3 4.3 0 1 0 -8.6 0zM1523.7 211.2a4.3 4.3 0 1 0 8.6 0a4.3 4.3 0 1 0 -8.6 0zM1523.7 214.2a4.3 4.3 0 1 0 8.6 0a4.3 4.3 0 1 0 -8.6 0zM1523.7 217.2a4.3 4.3 0 1 0 8.6 0a4.3 4.3 0 1 0 -8.6 0zM1523.7 220.2a4.3 4.3 0 1 0 8.6 0a4.3 4.3 0 1 0 -8.6 0zM1523.7 223.3a4.3 4.3 0 1 0 8.6 0a4.3 4.3 0 1 0 -8.6 0zM1523.7 226.3a4.3 4.3 0 1 0 8.6 0a4.3 4.3 0 1 0 -8.6 0zM1523.7 229.3a4.3 4.3 0 1 0 8.6 0a4.3 4.3 0 1 0 -8.6 0zM1523.7 232.3a4.3 4.3 0 1 0 8.6 0a4.3 4.3 0 1 0 -8.6 0zM1523.7 235.3a4.3 4.3 0 1 0 8.6 0a4.3 4.3 0 1 0 -8.6 0zM1523.7 238.3a4.3 4.3 0 1 0 8.6 0a4.3 4.3 0 1 0 -8.6 0zM1523.7 241.4a4.3 4.3 0 1 0 8.6 0a4.3 4.3 0 1 0 -8.6 0zM1523.7 244.4a4.3 4.3 0 1 0 8.6 0a4.3 4.3 0 1 0 -8.6 0zM1523.7 247.4a4.3 4.3 0 1 0 8.6 0a4.3 4.3 0 1 0 -8.6 0zM1523.7 250.4a4.3 4.3 0 1 0 8.6 0a4.3 4.3 0 1 0 -8.6 0zM1523.7 253.4a4.3 4.3 0 1 0 8.6 0a4.3 4.3 0 1 0 -8.6 0zM1523.7 256.4a4.3 4.3 0 1 0 8.6 0a4.3 4.3 0 1 0 -8.6 0zM1523.7 259.5a4.3 4.3 0 1 0 8.6 0a4.3 4.3 0 1 0 -8.6 0zM1523.7 262.5a4.3 4.3 0 1 0 8.6 0a4.3 4.3 0 1 0 -8.6 0zM1523.7 265.5a4.3 4.3 0 1 0 8.6 0a4.3 4.3 0 1 0 -8.6 0zM1523.7 286.4a4.3 4.3 0 1 0 8.6 0a4.3 4.3 0 1 0 -8.6 0zM1523.7 292.5a4.3 4.3 0 1 0 8.6 0a4.3 4.3 0 1 0 -8.6 0zM1523.7 306.1a4.3 4.3 0 1 0 8.6 0a4.3 4.3 0 1 0 -8.6 0zM1523.7 330.8a4.3 4.3 0 1 0 8.6 0a4.3 4.3 0 1 0 -8.6 0zM1523.7 351.5a4.3 4.3 0 1 0 8.6 0a4.3 4.3 0 1 0 -8.6 0z" fill="none" stroke="#0a22cc" stroke-width="1.4"/>
<path d="M1542.1 73.0L1547.3 83.0L1536.9 83.0zM1542.1 101.4L1547.3 111.4L1536.9 111.4zM1542.1 107.4L1547.3 117.4L1536.9 117.4zM1542.1 132.9L1547.3 142.9L1536.9 142.9zM1542.1 135.4L1547.3 145.4L1536.9 145.4zM1542.1 138.4L1547.3 148.4L1536.9 148.4zM1542.1 141.4L1547.3 151.4L1536.9 151.4zM1542.1 149.7L1547.3 159.7L1536.9 159.7zM1542.1 154.7L1547.3 164.7L1536.9 164.7zM1542.1 159.8L1547.3 169.8L1536.9 169.8zM1542.1 164.8L1547.3 174.8L1536.9 174.8zM1542.1 169.9L1547.3 179.9L1536.9 179.9zM1542.1 175.9L1547.3 185.9L1536.9 185.9zM1542.1 182.0L1547.3 192.0L1536.9 192.0zM1542.1 187.0L1547.3 197.0L1536.9 197.0zM1542.1 195.4L1547.3 205.4L1536.9 205.4zM1542.1 198.2L1547.3 208.2L1536.9 208.2zM1542.1 200.9L1547.3 210.9L1536.9 210.9zM1542.1 203.7L1547.3 213.7L1536.9 213.7zM1542.1 206.4L1547.3 216.4L1536.9 216.4zM1542.1 213.4L1547.3 223.4L1536.9 223.4zM1542.1 218.4L1547.3 228.4L1536.9 228.4zM1542.1 228.4L1547.3 238.4L1536.9 238.4zM1542.1 230.9L1547.3 240.9L1536.9 240.9zM1542.1 233.5L1547.3 243.5L1536.9 243.5zM1542.1 236.0L1547.3 246.0L1536.9 246.0zM1542.1 238.6L1547.3 248.6L1536.9 248.6zM1542.1 241.1L1547.3 251.1L1536.9 251.1zM1542.1 243.7L1547.3 253.7L1536.9 253.7zM1542.1 246.2L1547.3 256.2L1536.9 256.2zM1542.1 248.8L1547.3 258.8L1536.9 258.8zM1542.1 251.3L1547.3 261.3L1536.9 261.3zM1542.1 253.9L1547.3 263.9L1536.9 263.9zM1542.1 256.4L1547.3 266.4L1536.9 266.4zM1542.1 281.0L1547.3 291.0L1536.9 291.0zM1542.1 293.9L1547.3 303.9L1536.9 303.9zM1542.1 308.1L1547.3 318.1L1536.9 318.1zM1542.1 325.2L1547.3 335.2L1536.9 335.2zM1542.1 437.8L1547.3 447.8L1536.9 447.8z" fill="none" stroke="#0a22cc" stroke-width="1.6"/>
<line x1="1160.6" y1="140.9" x2="1513.7" y2="87.4" stroke="#7f7f7f" stroke-width="1.3"/>
<line x1="1132.3" y1="256.2" x2="1484.9" y2="121.7" stroke="#ff6600" stroke-width="1.4"/>
<line x1="1146" y1="249" x2="1499.7" y2="125" stroke="#ff6600" stroke-width="1.4"/>
<line x1="1174.9" y1="339.8" x2="1526" y2="239.7" stroke="#0a22cc" stroke-width="1.4"/>
<line x1="1176.2" y1="241.1" x2="1512.3" y2="157.4" stroke="#000" stroke-width="3.1" stroke-dasharray="11.5 4.2"/>
<path d="M296.4 927.4a4.3 4.3 0 1 0 8.6 0a4.3 4.3 0 1 0 -8.6 0zM296.4 936.1a4.3 4.3 0 1 0 8.6 0a4.3 4.3 0 1 0 -8.6 0zM296.4 958.3a4.3 4.3 0 1 0 8.6 0a4.3 4.3 0 1 0 -8.6 0zM296.4 976.3a4.3 4.3 0 1 0 8.6 0a4.3 4.3 0 1 0 -8.6 0zM296.4 1020.9a4.3 4.3 0 1 0 8.6 0a4.3 4.3 0 1 0 -8.6 0z" fill="none" stroke="#ff6600" stroke-width="1.4"/>
<path d="M314.8 916.4L320.0 926.4L309.6 926.4zM314.8 920.7L320.0 930.7L309.6 930.7zM314.8 925.1L320.0 935.1L309.6 935.1zM314.8 928.4L320.0 938.4L309.6 938.4zM314.8 932.7L320.0 942.7L309.6 942.7zM314.8 937.0L320.0 947.0L309.6 947.0zM314.8 940.3L320.0 950.3L309.6 950.3z" fill="none" stroke="#ff6600" stroke-width="1.6"/>
<path d="M328.9 774.6L333.7 779.6L328.9 784.6L324.1 779.6zM328.9 776.2L333.7 781.2L328.9 786.2L324.1 781.2zM328.9 777.8L333.7 782.8L328.9 787.8L324.1 782.8zM328.9 796.3L333.7 801.3L328.9 806.3L324.1 801.3zM328.9 797.4L333.7 802.4L328.9 807.4L324.1 802.4zM328.9 798.5L333.7 803.5L328.9 808.5L324.1 803.5zM328.9 857.2L333.7 862.2L328.9 867.2L324.1 862.2z" fill="none" stroke="#7f7f7f" stroke-width="1.6"/>
<path d="M338.7 945.9a4.3 4.3 0 1 0 8.6 0a4.3 4.3 0 1 0 -8.6 0zM338.7 965.4a4.3 4.3 0 1 0 8.6 0a4.3 4.3 0 1 0 -8.6 0zM338.7 972.0a4.3 4.3 0 1 0 8.6 0a4.3 4.3 0 1 0 -8.6 0zM338.7 975.2a4.3 4.3 0 1 0 8.6 0a4.3 4.3 0 1 0 -8.6 0zM338.7 978.5a4.3 4.3 0 1 0 8.6 0a4.3 4.3 0 1 0 -8.6 0z" fill="none" stroke="#0a22cc" stroke-width="1.4"/>
<path d="M357.2 916.4L362.4 926.4L352.0 926.4zM357.2 920.7L362.4 930.7L352.0 930.7zM357.2 928.4L362.4 938.4L352.0 938.4zM357.2 942.4L362.4 952.4L352.0 952.4zM357.2 951.1L362.4 961.1L352.0 961.1z" fill="none" stroke="#0a22cc" stroke-width="1.6"/>
<path d="M472.9 901.1a4.3 4.3 0 1 0 8.6 0a4.3 4.3 0 1 0 -8.6 0zM472.9 905.0a4.3 4.3 0 1 0 8.6 0a4.3 4.3 0 1 0 -8.6 0zM472.9 909.0a4.3 4.3 0 1 0 8.6 0a4.3 4.3 0 1 0 -8.6 0zM472.9 913.0a4.3 4.3 0 1 0 8.6 0a4.3 4.3 0 1 0 -8.6 0zM472.9 927.5a4.3 4.3 0 1 0 8.6 0a4.3 4.3 0 1 0 -8.6 0z" fill="none" stroke="#ff6600" stroke-width="1.4"/>
<path d="M491.7 887.6L496.9 897.6L486.5 897.6zM491.7 891.5L496.9 901.5L486.5 901.5zM491.7 895.5L496.9 905.5L486.5 905.5zM491.7 899.4L496.9 909.4L486.5 909.4zM491.7 912.6L496.9 922.6L486.5 922.6zM491.7 923.2L496.9 933.2L486.5 933.2z" fill="none" stroke="#ff6600" stroke-width="1.6"/>
<path d="M505.9 702.5L510.7 707.5L505.9 712.5L501.1 707.5zM505.9 712.8L510.7 717.8L505.9 722.8L501.1 717.8zM505.9 722.0L510.7 727.0L505.9 732.0L501.1 727.0zM505.9 724.0L510.7 729.0L505.9 734.0L501.1 729.0zM505.9 726.0L510.7 731.0L505.9 736.0L501.1 731.0zM505.9 728.0L510.7 733.0L505.9 738.0L501.1 733.0zM505.9 736.7L510.7 741.7L505.9 746.7L501.1 741.7zM505.9 748.2L510.7 753.2L505.9 758.2L501.1 753.2zM505.9 759.6L510.7 764.6L505.9 769.6L501.1 764.6zM505.9 769.9L510.7 774.9L505.9 779.9L501.1 774.9zM505.9 779.7L510.7 784.7L505.9 789.7L501.1 784.7zM505.9 783.5L510.7 788.5L505.9 793.5L501.1 788.5zM505.9 786.2L510.7 791.2L505.9 796.2L501.1 791.2zM505.9 794.9L510.7 799.9L505.9 804.9L501.1 799.9zM505.9 819.9L510.7 824.9L505.9 829.9L501.1 824.9z" fill="none" stroke="#7f7f7f" stroke-width="1.6"/>
<path d="M515.1 936.7a4.3 4.3 0 1 0 8.6 0a4.3 4.3 0 1 0 -8.6 0zM515.1 940.7a4.3 4.3 0 1 0 8.6 0a4.3 4.3 0 1 0 -8.6 0zM515.1 944.6a4.3 4.3 0 1 0 8.6 0a4.3 4.3 0 1 0 -8.6 0zM515.1 1005.3a4.3 4.3 0 1 0 8.6 0a4.3 4.3 0 1 0 -8.6 0zM515.1 1009.3a4.3 4.3 0 1 0 8.6 0a4.3 4.3 0 1 0 -8.6 0z" fill="none" stroke="#0a22cc" stroke-width="1.4"/>
<path d="M533.9 841.4L539.1 851.4L528.7 851.4zM533.9 900.8L539.1 910.8L528.7 910.8zM533.9 920.5L539.1 930.5L528.7 930.5zM533.9 923.2L539.1 933.2L528.7 933.2zM533.9 937.7L539.1 947.7L528.7 947.7zM533.9 949.6L539.1 959.6L528.7 959.6z" fill="none" stroke="#0a22cc" stroke-width="1.6"/>
<path d="M649.6 811.9a4.3 4.3 0 1 0 8.6 0a4.3 4.3 0 1 0 -8.6 0zM649.6 818.2a4.3 4.3 0 1 0 8.6 0a4.3 4.3 0 1 0 -8.6 0zM649.6 825.2a4.3 4.3 0 1 0 8.6 0a4.3 4.3 0 1 0 -8.6 0zM649.6 831.5a4.3 4.3 0 1 0 8.6 0a4.3 4.3 0 1 0 -8.6 0zM649.6 837.8a4.3 4.3 0 1 0 8.6 0a4.3 4.3 0 1 0 -8.6 0zM649.6 847.6a4.3 4.3 0 1 0 8.6 0a4.3 4.3 0 1 0 -8.6 0zM649.6 858.7a4.3 4.3 0 1 0 8.6 0a4.3 4.3 0 1 0 -8.6 0zM649.6 864.3a4.3 4.3 0 1 0 8.6 0a4.3 4.3 0 1 0 -8.6 0zM649.6 868.5a4.3 4.3 0 1 0 8.6 0a4.3 4.3 0 1 0 -8.6 0zM649.6 872.7a4.3 4.3 0 1 0 8.6 0a4.3 4.3 0 1 0 -8.6 0zM649.6 877.6a4.3 4.3 0 1 0 8.6 0a4.3 4.3 0 1 0 -8.6 0zM649.6 897.9a4.3 4.3 0 1 0 8.6 0a4.3 4.3 0 1 0 -8.6 0z" fill="none" stroke="#ff6600" stroke-width="1.4"/>
<path d="M667.9 814.9L673.1 824.9L662.7 824.9zM667.9 822.4L673.1 832.4L662.7 832.4zM667.9 824.9L673.1 834.9L662.7 834.9zM667.9 827.4L673.1 837.4L662.7 837.4zM667.9 829.9L673.1 839.9L662.7 839.9zM667.9 832.4L673.1 842.4L662.7 842.4zM667.9 844.1L673.1 854.1L662.7 854.1zM667.9 853.1L673.1 863.1L662.7 863.1zM667.9 860.1L673.1 870.1L662.7 870.1zM667.9 875.4L673.1 885.4L662.7 885.4zM667.9 878.4L673.1 888.4L662.7 888.4zM667.9 881.4L673.1 891.4L662.7 891.4zM667.9 898.6L673.1 908.6L662.7 908.6z" fill="none" stroke="#ff6600" stroke-width="1.6"/>
<path d="M682.0 697.5L686.8 702.5L682.0 707.5L677.2 702.5zM682.0 706.7L686.8 711.7L682.0 716.7L677.2 711.7zM682.0 725.2L686.8 730.2L682.0 735.2L677.2 730.2zM682.0 729.6L686.8 734.6L682.0 739.6L677.2 734.6zM682.0 732.8L686.8 737.8L682.0 742.8L677.2 737.8zM682.0 735.5L686.8 740.5L682.0 745.5L677.2 740.5zM682.0 738.3L686.8 743.3L682.0 748.3L677.2 743.3zM682.0 741.0L686.8 746.0L682.0 751.0L677.2 746.0zM682.0 748.0L686.8 753.0L682.0 758.0L677.2 753.0zM682.0 753.5L686.8 758.5L682.0 763.5L677.2 758.5zM682.0 756.7L686.8 761.7L682.0 766.7L677.2 761.7zM682.0 760.0L686.8 765.0L682.0 770.0L677.2 765.0zM682.0 769.2L686.8 774.2L682.0 779.2L677.2 774.2zM682.0 789.3L686.8 794.3L682.0 799.3L677.2 794.3zM682.0 818.0L686.8 823.0L682.0 828.0L677.2 823.0zM682.0 820.4L686.8 825.4L682.0 830.4L677.2 825.4zM682.0 865.4L686.8 870.4L682.0 875.4L677.2 870.4z" fill="none" stroke="#7f7f7f" stroke-width="1.6"/>
<path d="M692.2 885.3a4.3 4.3 0 1 0 8.6 0a4.3 4.3 0 1 0 -8.6 0zM692.2 892.3a4.3 4.3 0 1 0 8.6 0a4.3 4.3 0 1 0 -8.6 0zM692.2 896.5a4.3 4.3 0 1 0 8.6 0a4.3 4.3 0 1 0 -8.6 0zM692.2 910.5a4.3 4.3 0 1 0 8.6 0a4.3 4.3 0 1 0 -8.6 0zM692.2 917.5a4.3 4.3 0 1 0 8.6 0a4.3 4.3 0 1 0 -8.6 0zM692.2 918.9a4.3 4.3 0 1 0 8.6 0a4.3 4.3 0 1 0 -8.6 0zM692.2 932.9a4.3 4.3 0 1 0 8.6 0a4.3 4.3 0 1 0 -8.6 0zM692.2 936.4a4.3 4.3 0 1 0 8.6 0a4.3 4.3 0 1 0 -8.6 0zM692.2 946.9a4.3 4.3 0 1 0 8.6 0a4.3 4.3 0 1 0 -8.6 0zM692.2 956.6a4.3 4.3 0 1 0 8.6 0a4.3 4.3 0 1 0 -8.6 0zM692.2 972.7a4.3 4.3 0 1 0 8.6 0a4.3 4.3 0 1 0 -8.6 0z" fill="none" stroke="#0a22cc" stroke-width="1.4"/>
<path d="M710.3 802.1L715.5 812.1L705.1 812.1zM710.3 838.4L715.5 848.4L705.1 848.4zM710.3 841.4L715.5 851.4L705.1 851.4zM710.3 844.4L715.5 854.4L705.1 854.4zM710.3 858.7L715.5 868.7L705.1 868.7zM710.3 881.4L715.5 891.4L705.1 891.4zM710.3 884.4L715.5 894.4L705.1 894.4zM710.3 887.4L715.5 897.4L705.1 897.4zM710.3 890.4L715.5 900.4L705.1 900.4zM710.3 907.4L715.5 917.4L705.1 917.4zM710.3 911.4L715.5 921.4L705.1 921.4zM710.3 914.4L715.5 924.4L705.1 924.4z" fill="none" stroke="#0a22cc" stroke-width="1.6"/>
<line x1="300.7" y1="963.3" x2="652" y2="851.5" stroke="#ff6600" stroke-width="1.4"/>
<line x1="316" y1="940.7" x2="668.6" y2="855.7" stroke="#ff6600" stroke-width="1.4"/>
<line x1="357.2" y1="940.7" x2="709.8" y2="879" stroke="#0a22cc" stroke-width="1.4"/>
<line x1="343.5" y1="975" x2="696" y2="927" stroke="#0a22cc" stroke-width="1.4"/>
<line x1="327" y1="920.1" x2="683.7" y2="852.4" stroke="#000" stroke-width="3.1" stroke-dasharray="11.5 4.2"/>
<path d="M1127.5 746.4a4.3 4.3 0 1 0 8.6 0a4.3 4.3 0 1 0 -8.6 0zM1127.5 753.2a4.3 4.3 0 1 0 8.6 0a4.3 4.3 0 1 0 -8.6 0zM1127.5 771.2a4.3 4.3 0 1 0 8.6 0a4.3 4.3 0 1 0 -8.6 0zM1127.5 785.4a4.3 4.3 0 1 0 8.6 0a4.3 4.3 0 1 0 -8.6 0zM1127.5 796.0a4.3 4.3 0 1 0 8.6 0a4.3 4.3 0 1 0 -8.6 0zM1127.5 799.4a4.3 4.3 0 1 0 8.6 0a4.3 4.3 0 1 0 -8.6 0zM1127.5 802.7a4.3 4.3 0 1 0 8.6 0a4.3 4.3 0 1 0 -8.6 0zM1127.5 806.1a4.3 4.3 0 1 0 8.6 0a4.3 4.3 0 1 0 -8.6 0zM1127.5 819.6a4.3 4.3 0 1 0 8.6 0a4.3 4.3 0 1 0 -8.6 0z" fill="none" stroke="#ff6600" stroke-width="1.4"/>
<path d="M1146.0 763.4L1151.2 773.4L1140.8 773.4zM1146.0 766.4L1151.2 776.4L1140.8 776.4zM1146.0 769.0L1151.2 779.0L1140.8 779.0zM1146.0 771.4L1151.2 781.4L1140.8 781.4zM1146.0 773.5L1151.2 783.5L1140.8 783.5zM1146.0 775.4L1151.2 785.4L1140.8 785.4zM1146.0 778.0L1151.2 788.0L1140.8 788.0zM1146.0 780.4L1151.2 790.4L1140.8 790.4zM1146.0 783.6L1151.2 793.6L1140.8 793.6zM1146.0 786.4L1151.2 796.4L1140.8 796.4zM1146.0 789.3L1151.2 799.3L1140.8 799.3zM1146.0 791.4L1151.2 801.4L1140.8 801.4zM1146.0 793.8L1151.2 803.8L1140.8 803.8z" fill="none" stroke="#ff6600" stroke-width="1.6"/>
<path d="M1160.2 689.5L1165.0 694.5L1160.2 699.5L1155.4 694.5zM1160.2 691.9L1165.0 696.9L1160.2 701.9L1155.4 696.9zM1160.2 694.0L1165.0 699.0L1160.2 704.0L1155.4 699.0zM1160.2 721.5L1165.0 726.5L1160.2 731.5L1155.4 726.5zM1160.2 723.9L1165.0 728.9L1160.2 733.9L1155.4 728.9zM1160.2 726.0L1165.0 731.0L1160.2 736.0L1155.4 731.0zM1160.2 741.4L1165.0 746.4L1160.2 751.4L1155.4 746.4zM1160.2 760.0L1165.0 765.0L1160.2 770.0L1155.4 765.0zM1160.2 782.1L1165.0 787.1L1160.2 792.1L1155.4 787.1zM1160.2 795.5L1165.0 800.5L1160.2 805.5L1155.4 800.5zM1160.2 841.0L1165.0 846.0L1160.2 851.0L1155.4 846.0z" fill="none" stroke="#7f7f7f" stroke-width="1.6"/>
<path d="M1170.3 808.4a4.3 4.3 0 1 0 8.6 0a4.3 4.3 0 1 0 -8.6 0zM1170.3 830.9a4.3 4.3 0 1 0 8.6 0a4.3 4.3 0 1 0 -8.6 0zM1170.3 835.4a4.3 4.3 0 1 0 8.6 0a4.3 4.3 0 1 0 -8.6 0zM1170.3 838.8a4.3 4.3 0 1 0 8.6 0a4.3 4.3 0 1 0 -8.6 0zM1170.3 843.3a4.3 4.3 0 1 0 8.6 0a4.3 4.3 0 1 0 -8.6 0zM1170.3 852.3a4.3 4.3 0 1 0 8.6 0a4.3 4.3 0 1 0 -8.6 0zM1170.3 872.6a4.3 4.3 0 1 0 8.6 0a4.3 4.3 0 1 0 -8.6 0zM1170.3 876.0a4.3 4.3 0 1 0 8.6 0a4.3 4.3 0 1 0 -8.6 0zM1170.3 947.0a4.3 4.3 0 1 0 8.6 0a4.3 4.3 0 1 0 -8.6 0zM1170.3 953.6a4.3 4.3 0 1 0 8.6 0a4.3 4.3 0 1 0 -8.6 0z" fill="none" stroke="#0a22cc" stroke-width="1.4"/>
<path d="M1188.8 791.5L1194.0 801.5L1183.6 801.5zM1188.8 797.1L1194.0 807.1L1183.6 807.1zM1188.8 803.9L1194.0 813.9L1183.6 813.9zM1188.8 817.4L1194.0 827.4L1183.6 827.4zM1188.8 827.6L1194.0 837.6L1183.6 837.6zM1188.8 832.1L1194.0 842.1L1183.6 842.1zM1188.8 836.6L1194.0 846.6L1183.6 846.6zM1188.8 846.7L1194.0 856.7L1183.6 856.7zM1188.8 864.7L1194.0 874.7L1183.6 874.7zM1188.8 876.0L1194.0 886.0L1183.6 886.0z" fill="none" stroke="#0a22cc" stroke-width="1.6"/>
<path d="M1305.6 753.7a4.3 4.3 0 1 0 8.6 0a4.3 4.3 0 1 0 -8.6 0zM1305.6 757.9a4.3 4.3 0 1 0 8.6 0a4.3 4.3 0 1 0 -8.6 0zM1305.6 762.1a4.3 4.3 0 1 0 8.6 0a4.3 4.3 0 1 0 -8.6 0zM1305.6 766.3a4.3 4.3 0 1 0 8.6 0a4.3 4.3 0 1 0 -8.6 0zM1305.6 771.9a4.3 4.3 0 1 0 8.6 0a4.3 4.3 0 1 0 -8.6 0zM1305.6 790.0a4.3 4.3 0 1 0 8.6 0a4.3 4.3 0 1 0 -8.6 0zM1305.6 795.0a4.3 4.3 0 1 0 8.6 0a4.3 4.3 0 1 0 -8.6 0zM1305.6 799.9a4.3 4.3 0 1 0 8.6 0a4.3 4.3 0 1 0 -8.6 0z" fill="none" stroke="#ff6600" stroke-width="1.4"/>
<path d="M1323.2 760.7L1328.4 770.7L1318.0 770.7zM1323.2 771.9L1328.4 781.9L1318.0 781.9zM1323.2 780.4L1328.4 790.4L1318.0 790.4zM1323.2 782.4L1328.4 792.4L1318.0 792.4zM1323.2 784.4L1328.4 794.4L1318.0 794.4zM1323.2 786.4L1328.4 796.4L1318.0 796.4zM1323.2 788.4L1328.4 798.4L1318.0 798.4zM1323.2 801.3L1328.4 811.3L1318.0 811.3zM1323.2 818.0L1328.4 828.0L1318.0 828.0z" fill="none" stroke="#ff6600" stroke-width="1.6"/>
<path d="M1338.1 669.0L1342.9 674.0L1338.1 679.0L1333.3 674.0zM1338.1 676.0L1342.9 681.0L1338.1 686.0L1333.3 681.0zM1338.1 685.0L1342.9 690.0L1338.1 695.0L1333.3 690.0zM1338.1 688.0L1342.9 693.0L1338.1 698.0L1333.3 693.0zM1338.1 691.0L1342.9 696.0L1338.1 701.0L1333.3 696.0zM1338.1 698.4L1342.9 703.4L1338.1 708.4L1333.3 703.4zM1338.1 704.0L1342.9 709.0L1338.1 714.0L1333.3 709.0zM1338.1 711.0L1342.9 716.0L1338.1 721.0L1333.3 716.0zM1338.1 719.0L1342.9 724.0L1338.1 729.0L1333.3 724.0zM1338.1 722.0L1342.9 727.0L1338.1 732.0L1333.3 727.0zM1338.1 725.0L1342.9 730.0L1338.1 735.0L1333.3 730.0zM1338.1 728.0L1342.9 733.0L1338.1 738.0L1333.3 733.0zM1338.1 737.5L1342.9 742.5L1338.1 747.5L1333.3 742.5zM1338.1 744.5L1342.9 749.5L1338.1 754.5L1333.3 749.5zM1338.1 750.0L1342.9 755.0L1338.1 760.0L1333.3 755.0zM1338.1 758.5L1342.9 763.5L1338.1 768.5L1333.3 763.5zM1338.1 767.0L1342.9 772.0L1338.1 777.0L1333.3 772.0zM1338.1 774.0L1342.9 779.0L1338.1 784.0L1333.3 779.0zM1338.1 781.0L1342.9 786.0L1338.1 791.0L1333.3 786.0zM1338.1 784.0L1342.9 789.0L1338.1 794.0L1333.3 789.0zM1338.1 787.0L1342.9 792.0L1338.1 797.0L1333.3 792.0zM1338.1 790.0L1342.9 795.0L1338.1 800.0L1333.3 795.0zM1338.1 793.0L1342.9 798.0L1338.1 803.0L1333.3 798.0zM1338.1 796.0L1342.9 801.0L1338.1 806.0L1333.3 801.0zM1338.1 801.9L1342.9 806.9L1338.1 811.9L1333.3 806.9zM1338.1 818.0L1342.9 823.0L1338.1 828.0L1333.3 823.0zM1338.1 825.5L1342.9 830.5L1338.1 835.5L1333.3 830.5zM1338.1 828.4L1342.9 833.4L1338.1 838.4L1333.3 833.4zM1338.1 893.8L1342.9 898.8L1338.1 903.8L1333.3 898.8zM1338.1 931.5L1342.9 936.5L1338.1 941.5L1333.3 936.5z" fill="none" stroke="#7f7f7f" stroke-width="1.6"/>
<path d="M1347.7 810.3a4.3 4.3 0 1 0 8.6 0a4.3 4.3 0 1 0 -8.6 0zM1347.7 847.2a4.3 4.3 0 1 0 8.6 0a4.3 4.3 0 1 0 -8.6 0zM1347.7 851.3a4.3 4.3 0 1 0 8.6 0a4.3 4.3 0 1 0 -8.6 0zM1347.7 898.8a4.3 4.3 0 1 0 8.6 0a4.3 4.3 0 1 0 -8.6 0zM1347.7 903.0a4.3 4.3 0 1 0 8.6 0a4.3 4.3 0 1 0 -8.6 0zM1347.7 908.6a4.3 4.3 0 1 0 8.6 0a4.3 4.3 0 1 0 -8.6 0zM1347.7 922.6a4.3 4.3 0 1 0 8.6 0a4.3 4.3 0 1 0 -8.6 0zM1347.7 936.5a4.3 4.3 0 1 0 8.6 0a4.3 4.3 0 1 0 -8.6 0zM1347.7 1002.2a4.3 4.3 0 1 0 8.6 0a4.3 4.3 0 1 0 -8.6 0z" fill="none" stroke="#0a22cc" stroke-width="1.4"/>
<path d="M1366.8 801.3L1372.0 811.3L1361.6 811.3zM1366.8 815.4L1372.0 825.4L1361.6 825.4zM1366.8 818.4L1372.0 828.4L1361.6 828.4zM1366.8 821.4L1372.0 831.4L1361.6 831.4zM1366.8 834.6L1372.0 844.6L1361.6 844.6zM1366.8 852.8L1372.0 862.8L1361.6 862.8zM1366.8 856.9L1372.0 866.9L1361.6 866.9zM1366.8 861.1L1372.0 871.1L1361.6 871.1z" fill="none" stroke="#0a22cc" stroke-width="1.6"/>
<path d="M1482.6 665.1a4.3 4.3 0 1 0 8.6 0a4.3 4.3 0 1 0 -8.6 0zM1482.6 694.4a4.3 4.3 0 1 0 8.6 0a4.3 4.3 0 1 0 -8.6 0zM1482.6 707.0a4.3 4.3 0 1 0 8.6 0a4.3 4.3 0 1 0 -8.6 0zM1482.6 711.5a4.3 4.3 0 1 0 8.6 0a4.3 4.3 0 1 0 -8.6 0zM1482.6 715.6a4.3 4.3 0 1 0 8.6 0a4.3 4.3 0 1 0 -8.6 0zM1482.6 719.6a4.3 4.3 0 1 0 8.6 0a4.3 4.3 0 1 0 -8.6 0zM1482.6 723.0a4.3 4.3 0 1 0 8.6 0a4.3 4.3 0 1 0 -8.6 0zM1482.6 726.0a4.3 4.3 0 1 0 8.6 0a4.3 4.3 0 1 0 -8.6 0zM1482.6 728.9a4.3 4.3 0 1 0 8.6 0a4.3 4.3 0 1 0 -8.6 0zM1482.6 731.9a4.3 4.3 0 1 0 8.6 0a4.3 4.3 0 1 0 -8.6 0zM1482.6 734.8a4.3 4.3 0 1 0 8.6 0a4.3 4.3 0 1 0 -8.6 0zM1482.6 737.8a4.3 4.3 0 1 0 8.6 0a4.3 4.3 0 1 0 -8.6 0zM1482.6 740.7a4.3 4.3 0 1 0 8.6 0a4.3 4.3 0 1 0 -8.6 0zM1482.6 743.7a4.3 4.3 0 1 0 8.6 0a4.3 4.3 0 1 0 -8.6 0zM1482.6 746.6a4.3 4.3 0 1 0 8.6 0a4.3 4.3 0 1 0 -8.6 0zM1482.6 749.6a4.3 4.3 0 1 0 8.6 0a4.3 4.3 0 1 0 -8.6 0zM1482.6 752.5a4.3 4.3 0 1 0 8.6 0a4.3 4.3 0 1 0 -8.6 0zM1482.6 755.5a4.3 4.3 0 1 0 8.6 0a4.3 4.3 0 1 0 -8.6 0zM1482.6 758.4a4.3 4.3 0 1 0 8.6 0a4.3 4.3 0 1 0 -8.6 0zM1482.6 761.4a4.3 4.3 0 1 0 8.6 0a4.3 4.3 0 1 0 -8.6 0zM1482.6 764.3a4.3 4.3 0 1 0 8.6 0a4.3 4.3 0 1 0 -8.6 0zM1482.6 767.3a4.3 4.3 0 1 0 8.6 0a4.3 4.3 0 1 0 -8.6 0zM1482.6 770.2a4.3 4.3 0 1 0 8.6 0a4.3 4.3 0 1 0 -8.6 0zM1482.6 773.2a4.3 4.3 0 1 0 8.6 0a4.3 4.3 0 1 0 -8.6 0zM1482.6 776.1a4.3 4.3 0 1 0 8.6 0a4.3 4.3 0 1 0 -8.6 0zM1482.6 779.1a4.3 4.3 0 1 0 8.6 0a4.3 4.3 0 1 0 -8.6 0zM1482.6 782.0a4.3 4.3 0 1 0 8.6 0a4.3 4.3 0 1 0 -8.6 0zM1482.6 785.0a4.3 4.3 0 1 0 8.6 0a4.3 4.3 0 1 0 -8.6 0zM1482.6 800.5a4.3 4.3 0 1 0 8.6 0a4.3 4.3 0 1 0 -8.6 0zM1482.6 803.5a4.3 4.3 0 1 0 8.6 0a4.3 4.3 0 1 0 -8.6 0zM1482.6 806.5a4.3 4.3 0 1 0 8.6 0a4.3 4.3 0 1 0 -8.6 0zM1482.6 840.1a4.3 4.3 0 1 0 8.6 0a4.3 4.3 0 1 0 -8.6 0z" fill="none" stroke="#ff6600" stroke-width="1.4"/>
<path d="M1501.7 719.9L1506.9 729.9L1496.5 729.9zM1501.7 722.5L1506.9 732.5L1496.5 732.5zM1501.7 725.2L1506.9 735.2L1496.5 735.2zM1501.7 727.8L1506.9 737.8L1496.5 737.8zM1501.7 730.4L1506.9 740.4L1496.5 740.4zM1501.7 733.1L1506.9 743.1L1496.5 743.1zM1501.7 735.7L1506.9 745.7L1496.5 745.7zM1501.7 738.4L1506.9 748.4L1496.5 748.4zM1501.7 741.0L1506.9 751.0L1496.5 751.0zM1501.7 743.6L1506.9 753.6L1496.5 753.6zM1501.7 746.3L1506.9 756.3L1496.5 756.3zM1501.7 748.9L1506.9 758.9L1496.5 758.9zM1501.7 751.5L1506.9 761.5L1496.5 761.5zM1501.7 754.2L1506.9 764.2L1496.5 764.2zM1501.7 756.8L1506.9 766.8L1496.5 766.8zM1501.7 759.4L1506.9 769.4L1496.5 769.4zM1501.7 762.1L1506.9 772.1L1496.5 772.1zM1501.7 764.7L1506.9 774.7L1496.5 774.7zM1501.7 767.4L1506.9 777.4L1496.5 777.4zM1501.7 770.0L1506.9 780.0L1496.5 780.0zM1501.7 772.6L1506.9 782.6L1496.5 782.6zM1501.7 775.3L1506.9 785.3L1496.5 785.3zM1501.7 777.9L1506.9 787.9L1496.5 787.9zM1501.7 797.4L1506.9 807.4L1496.5 807.4zM1501.7 804.4L1506.9 814.4L1496.5 814.4zM1501.7 811.4L1506.9 821.4L1496.5 821.4zM1501.7 817.4L1506.9 827.4L1496.5 827.4zM1501.7 824.4L1506.9 834.4L1496.5 834.4zM1501.7 840.1L1506.9 850.1L1496.5 850.1zM1501.7 870.9L1506.9 880.9L1496.5 880.9z" fill="none" stroke="#ff6600" stroke-width="1.6"/>
<path d="M1515.9 653.6L1520.7 658.6L1515.9 663.6L1511.1 658.6zM1515.9 670.5L1520.7 675.5L1515.9 680.5L1511.1 675.5zM1515.9 672.0L1520.7 677.0L1515.9 682.0L1511.1 677.0zM1515.9 673.5L1520.7 678.5L1515.9 683.5L1511.1 678.5zM1515.9 675.0L1520.7 680.0L1515.9 685.0L1511.1 680.0zM1515.9 684.4L1520.7 689.4L1515.9 694.4L1511.1 689.4zM1515.9 696.5L1520.7 701.5L1515.9 706.5L1511.1 701.5zM1515.9 708.0L1520.7 713.0L1515.9 718.0L1511.1 713.0zM1515.9 721.0L1520.7 726.0L1515.9 731.0L1511.1 726.0zM1515.9 723.7L1520.7 728.7L1515.9 733.7L1511.1 728.7zM1515.9 726.3L1520.7 731.3L1515.9 736.3L1511.1 731.3zM1515.9 729.0L1520.7 734.0L1515.9 739.0L1511.1 734.0zM1515.9 731.7L1520.7 736.7L1515.9 741.7L1511.1 736.7zM1515.9 734.3L1520.7 739.3L1515.9 744.3L1511.1 739.3zM1515.9 737.0L1520.7 742.0L1515.9 747.0L1511.1 742.0zM1515.9 739.7L1520.7 744.7L1515.9 749.7L1511.1 744.7zM1515.9 742.3L1520.7 747.3L1515.9 752.3L1511.1 747.3zM1515.9 745.0L1520.7 750.0L1515.9 755.0L1511.1 750.0zM1515.9 754.0L1520.7 759.0L1515.9 764.0L1511.1 759.0zM1515.9 761.0L1520.7 766.0L1515.9 771.0L1511.1 766.0zM1515.9 767.0L1520.7 772.0L1515.9 777.0L1511.1 772.0zM1515.9 773.0L1520.7 778.0L1515.9 783.0L1511.1 778.0zM1515.9 775.0L1520.7 780.0L1515.9 785.0L1511.1 780.0zM1515.9 788.7L1520.7 793.7L1515.9 798.7L1511.1 793.7zM1515.9 799.0L1520.7 804.0L1515.9 809.0L1511.1 804.0zM1515.9 803.0L1520.7 808.0L1515.9 813.0L1511.1 808.0zM1515.9 807.0L1520.7 812.0L1515.9 817.0L1511.1 812.0zM1515.9 810.0L1520.7 815.0L1515.9 820.0L1511.1 815.0zM1515.9 813.0L1520.7 818.0L1515.9 823.0L1511.1 818.0zM1515.9 818.5L1520.7 823.5L1515.9 828.5L1511.1 823.5zM1515.9 827.6L1520.7 832.6L1515.9 837.6L1511.1 832.6zM1515.9 849.8L1520.7 854.8L1515.9 859.8L1511.1 854.8zM1515.9 889.5L1520.7 894.5L1515.9 899.5L1511.1 894.5zM1515.9 917.9L1520.7 922.9L1515.9 927.9L1511.1 922.9zM1515.9 925.4L1520.7 930.4L1515.9 935.4L1511.1 930.4zM1515.9 959.5L1520.7 964.5L1515.9 969.5L1511.1 964.5z" fill="none" stroke="#7f7f7f" stroke-width="1.6"/>
<path d="M1525.7 795.0a4.3 4.3 0 1 0 8.6 0a4.3 4.3 0 1 0 -8.6 0zM1525.7 798.0a4.3 4.3 0 1 0 8.6 0a4.3 4.3 0 1 0 -8.6 0zM1525.7 801.0a4.3 4.3 0 1 0 8.6 0a4.3 4.3 0 1 0 -8.6 0zM1525.7 804.0a4.3 4.3 0 1 0 8.6 0a4.3 4.3 0 1 0 -8.6 0zM1525.7 807.0a4.3 4.3 0 1 0 8.6 0a4.3 4.3 0 1 0 -8.6 0zM1525.7 810.0a4.3 4.3 0 1 0 8.6 0a4.3 4.3 0 1 0 -8.6 0zM1525.7 813.0a4.3 4.3 0 1 0 8.6 0a4.3 4.3 0 1 0 -8.6 0zM1525.7 816.0a4.3 4.3 0 1 0 8.6 0a4.3 4.3 0 1 0 -8.6 0zM1525.7 819.0a4.3 4.3 0 1 0 8.6 0a4.3 4.3 0 1 0 -8.6 0zM1525.7 822.0a4.3 4.3 0 1 0 8.6 0a4.3 4.3 0 1 0 -8.6 0zM1525.7 825.0a4.3 4.3 0 1 0 8.6 0a4.3 4.3 0 1 0 -8.6 0zM1525.7 828.0a4.3 4.3 0 1 0 8.6 0a4.3 4.3 0 1 0 -8.6 0zM1525.7 831.0a4.3 4.3 0 1 0 8.6 0a4.3 4.3 0 1 0 -8.6 0zM1525.7 834.0a4.3 4.3 0 1 0 8.6 0a4.3 4.3 0 1 0 -8.6 0zM1525.7 837.0a4.3 4.3 0 1 0 8.6 0a4.3 4.3 0 1 0 -8.6 0zM1525.7 840.0a4.3 4.3 0 1 0 8.6 0a4.3 4.3 0 1 0 -8.6 0zM1525.7 843.0a4.3 4.3 0 1 0 8.6 0a4.3 4.3 0 1 0 -8.6 0zM1525.7 846.0a4.3 4.3 0 1 0 8.6 0a4.3 4.3 0 1 0 -8.6 0zM1525.7 849.0a4.3 4.3 0 1 0 8.6 0a4.3 4.3 0 1 0 -8.6 0zM1525.7 852.0a4.3 4.3 0 1 0 8.6 0a4.3 4.3 0 1 0 -8.6 0zM1525.7 855.0a4.3 4.3 0 1 0 8.6 0a4.3 4.3 0 1 0 -8.6 0zM1525.7 858.0a4.3 4.3 0 1 0 8.6 0a4.3 4.3 0 1 0 -8.6 0zM1525.7 861.0a4.3 4.3 0 1 0 8.6 0a4.3 4.3 0 1 0 -8.6 0zM1525.7 864.0a4.3 4.3 0 1 0 8.6 0a4.3 4.3 0 1 0 -8.6 0zM1525.7 867.0a4.3 4.3 0 1 0 8.6 0a4.3 4.3 0 1 0 -8.6 0zM1525.7 870.0a4.3 4.3 0 1 0 8.6 0a4.3 4.3 0 1 0 -8.6 0zM1525.7 873.0a4.3 4.3 0 1 0 8.6 0a4.3 4.3 0 1 0 -8.6 0zM1525.7 876.0a4.3 4.3 0 1 0 8.6 0a4.3 4.3 0 1 0 -8.6 0zM1525.7 879.0a4.3 4.3 0 1 0 8.6 0a4.3 4.3 0 1 0 -8.6 0zM1525.7 882.0a4.3 4.3 0 1 0 8.6 0a4.3 4.3 0 1 0 -8.6 0zM1525.7 885.0a4.3 4.3 0 1 0 8.6 0a4.3 4.3 0 1 0 -8.6 0zM1525.7 888.0a4.3 4.3 0 1 0 8.6 0a4.3 4.3 0 1 0 -8.6 0zM1525.7 891.0a4.3 4.3 0 1 0 8.6 0a4.3 4.3 0 1 0 -8.6 0zM1525.7 894.0a4.3 4.3 0 1 0 8.6 0a4.3 4.3 0 1 0 -8.6 0zM1525.7 897.0a4.3 4.3 0 1 0 8.6 0a4.3 4.3 0 1 0 -8.6 0zM1525.7 900.0a4.3 4.3 0 1 0 8.6 0a4.3 4.3 0 1 0 -8.6 0zM1525.7 903.0a4.3 4.3 0 1 0 8.6 0a4.3 4.3 0 1 0 -8.6 0zM1525.7 906.0a4.3 4.3 0 1 0 8.6 0a4.3 4.3 0 1 0 -8.6 0zM1525.7 922.9a4.3 4.3 0 1 0 8.6 0a4.3 4.3 0 1 0 -8.6 0zM1525.7 928.5a4.3 4.3 0 1 0 8.6 0a4.3 4.3 0 1 0 -8.6 0zM1525.7 933.5a4.3 4.3 0 1 0 8.6 0a4.3 4.3 0 1 0 -8.6 0zM1525.7 938.4a4.3 4.3 0 1 0 8.6 0a4.3 4.3 0 1 0 -8.6 0zM1525.7 945.9a4.3 4.3 0 1 0 8.6 0a4.3 4.3 0 1 0 -8.6 0zM1525.7 954.6a4.3 4.3 0 1 0 8.6 0a4.3 4.3 0 1 0 -8.6 0zM1525.7 1019.2a4.3 4.3 0 1 0 8.6 0a4.3 4.3 0 1 0 -8.6 0z" fill="none" stroke="#0a22cc" stroke-width="1.4"/>
<path d="M1544.1 758.9L1549.3 768.9L1538.9 768.9zM1544.1 772.9L1549.3 782.9L1538.9 782.9zM1544.1 777.4L1549.3 787.4L1538.9 787.4zM1544.1 781.8L1549.3 791.8L1538.9 791.8zM1544.1 786.2L1549.3 796.2L1538.9 796.2zM1544.1 790.7L1549.3 800.7L1538.9 800.7zM1544.1 795.1L1549.3 805.1L1538.9 805.1zM1544.1 799.6L1549.3 809.6L1538.9 809.6zM1544.1 804.0L1549.3 814.0L1538.9 814.0zM1544.1 808.5L1549.3 818.5L1538.9 818.5zM1544.1 812.9L1549.3 822.9L1538.9 822.9zM1544.1 817.4L1549.3 827.4L1538.9 827.4zM1544.1 825.4L1549.3 835.4L1538.9 835.4zM1544.1 827.9L1549.3 837.9L1538.9 837.9zM1544.1 830.4L1549.3 840.4L1538.9 840.4zM1544.1 832.9L1549.3 842.9L1538.9 842.9zM1544.1 835.4L1549.3 845.4L1538.9 845.4zM1544.1 837.9L1549.3 847.9L1538.9 847.9zM1544.1 840.4L1549.3 850.4L1538.9 850.4zM1544.1 851.4L1549.3 861.4L1538.9 861.4zM1544.1 854.1L1549.3 864.1L1538.9 864.1zM1544.1 856.7L1549.3 866.7L1538.9 866.7zM1544.1 859.4L1549.3 869.4L1538.9 869.4zM1544.1 862.1L1549.3 872.1L1538.9 872.1zM1544.1 864.7L1549.3 874.7L1538.9 874.7zM1544.1 867.4L1549.3 877.4L1538.9 877.4zM1544.1 870.1L1549.3 880.1L1538.9 880.1zM1544.1 872.7L1549.3 882.7L1538.9 882.7zM1544.1 875.4L1549.3 885.4L1538.9 885.4zM1544.1 898.9L1549.3 908.9L1538.9 908.9zM1544.1 911.4L1549.3 921.4L1538.9 921.4zM1544.1 923.9L1549.3 933.9L1538.9 933.9zM1544.1 930.4L1549.3 940.4L1538.9 940.4zM1544.1 936.9L1549.3 946.9L1538.9 946.9zM1544.1 943.4L1549.3 953.4L1538.9 953.4zM1544.1 949.4L1549.3 959.4L1538.9 959.4zM1544.1 983.8L1549.3 993.8L1538.9 993.8zM1544.1 1034.7L1549.3 1044.7L1538.9 1044.7z" fill="none" stroke="#0a22cc" stroke-width="1.6"/>
<line x1="1132.3" y1="789.2" x2="1486.3" y2="756.2" stroke="#ff6600" stroke-width="1.4"/>
<line x1="1190" y1="829" x2="1539.8" y2="864.6" stroke="#0a22cc" stroke-width="1.4"/>
<line x1="160.65" y1="13.0" x2="777.85" y2="13.0" stroke="#505050" stroke-width="1.9"/>
<line x1="160.65" y1="544.6" x2="777.85" y2="544.6" stroke="#000" stroke-width="1.9"/>
<line x1="161.6" y1="12.05" x2="161.6" y2="545.5500000000001" stroke="#404040" stroke-width="1.9"/>
<line x1="776.9" y1="12.05" x2="776.9" y2="545.5500000000001" stroke="#4a4a4a" stroke-width="1.9"/>
<line x1="983.65" y1="8.1" x2="1602.65" y2="8.1" stroke="#555" stroke-width="1.9"/>
<line x1="983.65" y1="545.9" x2="1602.65" y2="545.9" stroke="#555" stroke-width="1.9"/>
<line x1="984.6" y1="7.1499999999999995" x2="984.6" y2="546.85" stroke="#000" stroke-width="1.9"/>
<line x1="1601.7" y1="7.1499999999999995" x2="1601.7" y2="546.85" stroke="#000" stroke-width="1.9"/>
<line x1="151.15" y1="636.1" x2="771.35" y2="636.1" stroke="#555" stroke-width="1.9"/>
<line x1="151.15" y1="1174.1" x2="771.35" y2="1174.1" stroke="#000" stroke-width="1.9"/>
<line x1="152.1" y1="635.15" x2="152.1" y2="1175.05" stroke="#555" stroke-width="1.9"/>
<line x1="770.4" y1="635.15" x2="770.4" y2="1175.05" stroke="#1a1a1a" stroke-width="1.9"/>
<line x1="981.75" y1="632.2" x2="1620.95" y2="632.2" stroke="#000" stroke-width="1.9"/>
<line x1="981.75" y1="1168.9" x2="1620.95" y2="1168.9" stroke="#555" stroke-width="1.9"/>
<line x1="982.7" y1="631.25" x2="982.7" y2="1169.8500000000001" stroke="#2a2a2a" stroke-width="1.9"/>
<text x="174.8" y="48.8" font-size="36" font-weight="bold" fill="#000">a</text>
<text x="999.8" y="48.8" font-size="36" font-weight="bold" fill="#000">b</text>
<text x="165.3" y="675.3" font-size="36" font-weight="bold" fill="#000">c</text>
<text x="992.3" y="672.8" font-size="36" font-weight="bold" fill="#000">d</text>
<text x="189.9" y="460.4" font-size="28.4" font-style="italic" fill="#0a22cc">Sac.</text>
<text x="252.0" y="460.4" font-size="28.4" fill="#0a22cc">R<tspan font-size="15.5" dy="-9">2</tspan><tspan dy="9">=0.43</tspan>***</text>
<text x="189.9" y="493.9" font-size="28.4" font-style="italic" fill="#0a22cc">Set.</text>
<text x="254.0" y="493.9" font-size="28.4" fill="#0a22cc">R<tspan font-size="15.5" dy="-9">2</tspan><tspan dy="9">=0.58</tspan>***</text>
<text x="191.2" y="528.5" font-size="28.4" font-style="italic" fill="#7f7f7f">Sty.</text>
<text x="254.0" y="528.5" font-size="28.4" fill="#7f7f7f">R<tspan font-size="15.5" dy="-9">2</tspan><tspan dy="9">=0.10</tspan>**</text>
<text x="423.2" y="460.4" font-size="28.4" font-style="italic" fill="#ff6600">Mel.</text>
<text x="483.3" y="460.4" font-size="28.4" fill="#ff6600">R<tspan font-size="15.5" dy="-9">2</tspan><tspan dy="9">=0.56</tspan>***</text>
<text x="425.1" y="493.5" font-size="28.4" font-style="italic" fill="#ff6600">Uro.</text>
<text x="483.3" y="493.5" font-size="28.4" fill="#ff6600">R<tspan font-size="15.5" dy="-9">2</tspan><tspan dy="9">=0.68</tspan>***</text>
<text x="420.9" y="524.3" font-size="28.4" fill="#000">ALL: p &lt; 0.001</text>
<text x="1010.5" y="462.1" font-size="28.4" font-style="italic" fill="#0a22cc">Sac.</text>
<text x="1072.0" y="462.1" font-size="28.4" fill="#0a22cc">R<tspan font-size="15.5" dy="-9">2</tspan><tspan dy="9">=0.50</tspan>***</text>
<text x="1010.5" y="496.2" font-size="28.4" font-style="italic" fill="#0a22cc">Set.</text>
<text x="1074.0" y="496.2" font-size="28.4" fill="#0a22cc">R<tspan font-size="15.5" dy="-9">2</tspan><tspan dy="9">=0.03</tspan><tspan font-size="17" dy="-10">ns</tspan></text>
<text x="1012.5" y="530.2" font-size="28.4" font-style="italic" fill="#7f7f7f">Sty.</text>
<text x="1074.0" y="530.2" font-size="28.4" fill="#7f7f7f">R<tspan font-size="15.5" dy="-9">2</tspan><tspan dy="9">=0.06</tspan>*</text>
<text x="1246.4" y="461.1" font-size="28.4" font-style="italic" fill="#ff6600">Mel.</text>
<text x="1305.3" y="461.1" font-size="28.4" fill="#ff6600">R<tspan font-size="15.5" dy="-9">2</tspan><tspan dy="9">=0.71</tspan>***</text>
<text x="1247.1" y="495.1" font-size="28.4" font-style="italic" fill="#ff6600">Uro.</text>
<text x="1305.3" y="495.1" font-size="28.4" fill="#ff6600">R<tspan font-size="15.5" dy="-9">2</tspan><tspan dy="9">=0.69</tspan>***</text>
<text x="1246.1" y="530.8" font-size="28.4" fill="#000">ALL: p &lt; 0.001</text>
<text x="187.5" y="1089.5" font-size="28.4" font-style="italic" fill="#0a22cc">Sac.</text>
<text x="250.3" y="1089.5" font-size="28.4" fill="#0a22cc">R<tspan font-size="15.5" dy="-9">2</tspan><tspan dy="9">=0.39</tspan>**</text>
<text x="187.5" y="1123.5" font-size="28.4" font-style="italic" fill="#0a22cc">Set.</text>
<text x="251.6" y="1123.5" font-size="28.4" fill="#0a22cc">R<tspan font-size="15.5" dy="-9">2</tspan><tspan dy="9">=0.41</tspan>***</text>
<text x="189.5" y="1158.5" font-size="28.4" font-style="italic" fill="#7f7f7f">Sty.</text>
<text x="251.6" y="1158.5" font-size="28.4" fill="#7f7f7f">R<tspan font-size="15.5" dy="-9">2</tspan><tspan dy="9">=0.04</tspan><tspan font-size="17" dy="-10">ns</tspan></text>
<text x="413.4" y="1089.5" font-size="28.4" font-style="italic" fill="#ff6600">Mel.</text>
<text x="473.5" y="1089.5" font-size="28.4" fill="#ff6600">R<tspan font-size="15.5" dy="-9">2</tspan><tspan dy="9">=0.78</tspan>***</text>
<text x="414.7" y="1123.1" font-size="28.4" font-style="italic" fill="#ff6600">Uro.</text>
<text x="473.5" y="1123.1" font-size="28.4" fill="#ff6600">R<tspan font-size="15.5" dy="-9">2</tspan><tspan dy="9">=0.74</tspan>***</text>
<text x="412.4" y="1156.6" font-size="28.4" fill="#000">ALL: p &lt; 0.001</text>
<text x="1020.5" y="1091.2" font-size="28.4" font-style="italic" fill="#0a22cc">Sac.</text>
<text x="1083.3" y="1091.2" font-size="28.4" fill="#0a22cc">R<tspan font-size="15.5" dy="-9">2</tspan><tspan dy="9">=0.50</tspan><tspan font-size="17" dy="-10">ns</tspan></text>
<text x="1020.5" y="1124.2" font-size="28.4" font-style="italic" fill="#0a22cc">Set.</text>
<text x="1084.0" y="1124.2" font-size="28.4" fill="#0a22cc">R<tspan font-size="15.5" dy="-9">2</tspan><tspan dy="9">=0.07</tspan>*</text>
<text x="1021.2" y="1157.5" font-size="28.4" font-style="italic" fill="#7f7f7f">Sty.</text>
<text x="1083.3" y="1157.5" font-size="28.4" fill="#7f7f7f">R<tspan font-size="15.5" dy="-9">2</tspan><tspan dy="9">=0.01</tspan><tspan font-size="17" dy="-10">ns</tspan></text>
<text x="1241.4" y="1089.9" font-size="28.4" font-style="italic" fill="#ff6600">Mel.</text>
<text x="1300.9" y="1089.9" font-size="28.4" fill="#ff6600">R<tspan font-size="15.5" dy="-9">2</tspan><tspan dy="9">=0.15</tspan>**</text>
<text x="1242.1" y="1124.2" font-size="28.4" font-style="italic" fill="#ff6600">Uro.</text>
<text x="1300.9" y="1124.2" font-size="28.4" fill="#ff6600">R<tspan font-size="15.5" dy="-9">2</tspan><tspan dy="9">=0.02</tspan><tspan font-size="17" dy="-10">ns</tspan></text>
<text x="1243.1" y="1157.5" font-size="28.4" fill="#000">ALL: ns</text>
<text transform="translate(25.5,275.4) rotate(-90)" font-size="35.4" text-anchor="middle" fill="#000">log (Root PME activity)</text>
<text transform="translate(68.7,275) rotate(-90)" font-size="35.4" text-anchor="middle" fill="#000">(µmol pNPP cleaved g-root<tspan font-size="21" dy="-12">-1</tspan><tspan dy="12"> h</tspan><tspan font-size="21" dy="-12">-1</tspan><tspan dy="12">)</tspan></text>
<text transform="translate(885.7,275.6) rotate(-90)" font-size="35.4" text-anchor="middle" fill="#000">log (Plant P-uptake) (mg)</text>
<text transform="translate(63.5,910.5) rotate(-90)" font-size="35.4" text-anchor="middle" fill="#000">log (Plant N-uptake) (mg)</text>
<text transform="translate(883.6,901.6) rotate(-90)" font-size="35.4" text-anchor="middle" fill="#000">log (Plant biomass) (g)</text>
<text x="267" y="1278.6" font-size="35.4" fill="#000">Species per mesocosm</text>
<text x="1109.5" y="1281" font-size="35.4" fill="#000">Species per mesocosm</text>
</svg></body></html>
